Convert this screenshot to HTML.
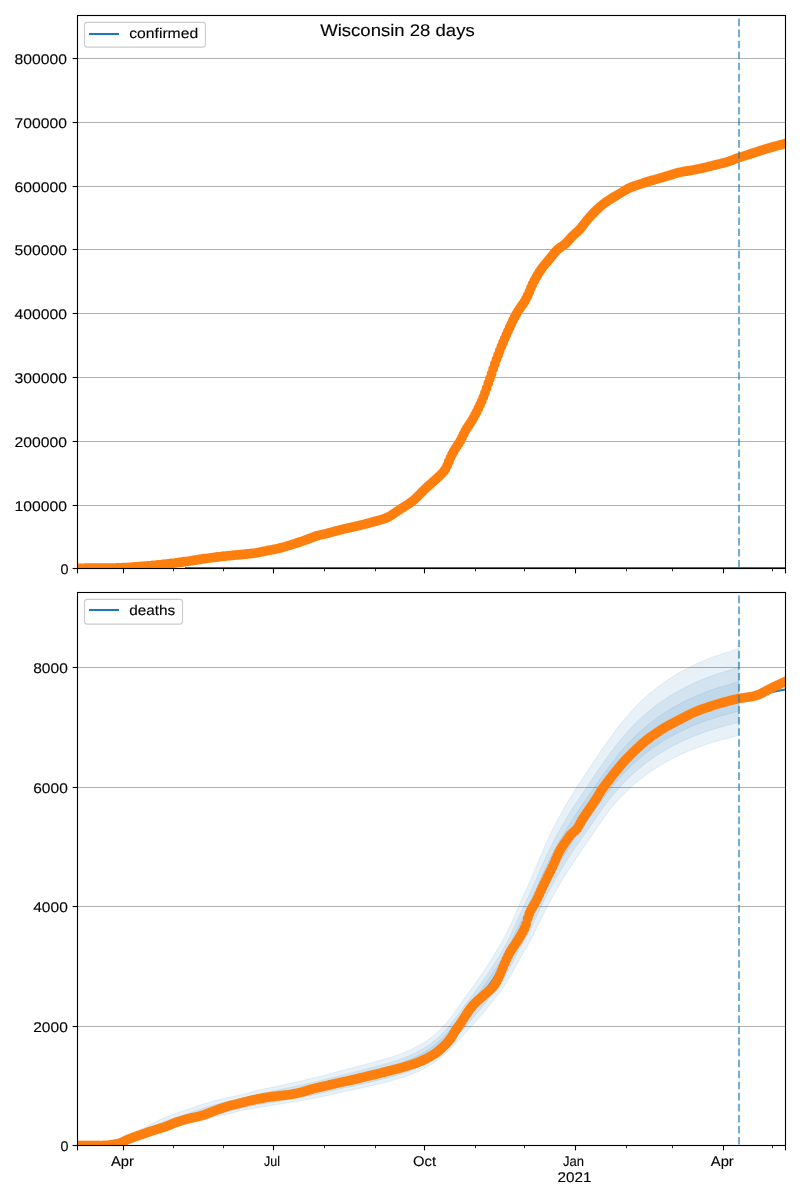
<!DOCTYPE html><html><head><meta charset="utf-8"><style>html,body{margin:0;padding:0;background:#fff;}svg{display:block;} text{text-rendering:geometricPrecision;stroke:#000;stroke-width:0.12px;}</style></head><body>
<svg width="800" height="1200" viewBox="0 0 800 1200">
<rect width="800" height="1200" fill="#fff"/>
<defs><clipPath id="ct"><rect x="77.5" y="15.5" width="708.0" height="553.0"/></clipPath><clipPath id="cb"><rect x="77.5" y="592.5" width="708.0" height="553.0"/></clipPath></defs>
<g font-family='"Liberation Sans", sans-serif' fill="#000" style="will-change:transform">
<line x1="77.5" y1="568.50" x2="785.5" y2="568.50" stroke="#b0b0b0" stroke-width="1.11"/>
<line x1="77.5" y1="505.50" x2="785.5" y2="505.50" stroke="#b0b0b0" stroke-width="1.11"/>
<line x1="77.5" y1="441.50" x2="785.5" y2="441.50" stroke="#b0b0b0" stroke-width="1.11"/>
<line x1="77.5" y1="377.50" x2="785.5" y2="377.50" stroke="#b0b0b0" stroke-width="1.11"/>
<line x1="77.5" y1="313.50" x2="785.5" y2="313.50" stroke="#b0b0b0" stroke-width="1.11"/>
<line x1="77.5" y1="249.50" x2="785.5" y2="249.50" stroke="#b0b0b0" stroke-width="1.11"/>
<line x1="77.5" y1="186.50" x2="785.5" y2="186.50" stroke="#b0b0b0" stroke-width="1.11"/>
<line x1="77.5" y1="122.50" x2="785.5" y2="122.50" stroke="#b0b0b0" stroke-width="1.11"/>
<line x1="77.5" y1="58.50" x2="785.5" y2="58.50" stroke="#b0b0b0" stroke-width="1.11"/>
<g clip-path="url(#ct)">
<path d="M185,568.0 L785.5,568.0" stroke="#1f77b4" stroke-width="2.08" fill="none"/>
<path d="M77.50,568.30 L79.50,568.29 L81.50,568.29 L83.50,568.28 L85.50,568.27 L87.50,568.27 L89.50,568.26 L91.50,568.25 L93.50,568.24 L95.50,568.23 L97.50,568.22 L99.50,568.20 L101.50,568.19 L103.50,568.18 L105.50,568.16 L107.50,568.15 L109.50,568.14 L111.50,568.11 L113.50,568.08 L115.50,568.04 L117.50,567.98 L119.50,567.91 L121.49,567.82 L123.49,567.72 L125.49,567.61 L127.49,567.49 L129.48,567.37 L131.48,567.23 L133.47,567.09 L135.47,566.94 L137.46,566.79 L139.45,566.64 L141.45,566.47 L143.44,566.31 L145.43,566.14 L147.43,565.97 L149.42,565.80 L151.41,565.61 L153.40,565.42 L155.39,565.23 L157.38,565.02 L159.37,564.82 L161.36,564.60 L163.35,564.38 L165.33,564.16 L167.32,563.93 L169.31,563.70 L171.29,563.46 L173.28,563.21 L175.26,562.96 L177.25,562.71 L179.23,562.45 L181.21,562.18 L183.19,561.91 L185.17,561.63 L187.15,561.34 L189.13,561.04 L191.11,560.73 L193.08,560.42 L195.06,560.11 L197.03,559.80 L199.01,559.50 L200.99,559.20 L202.97,558.91 L204.95,558.62 L206.93,558.34 L208.91,558.06 L210.89,557.79 L212.87,557.52 L214.85,557.26 L216.84,557.01 L218.82,556.76 L220.81,556.53 L222.80,556.31 L224.78,556.10 L226.77,555.89 L228.76,555.70 L230.75,555.51 L232.75,555.32 L234.74,555.13 L236.73,554.95 L238.72,554.76 L240.71,554.57 L242.70,554.38 L244.69,554.20 L246.68,554.01 L248.68,553.83 L250.67,553.62 L252.65,553.39 L254.63,553.12 L256.61,552.81 L258.57,552.45 L260.54,552.06 L262.49,551.66 L264.45,551.24 L266.41,550.83 L268.37,550.44 L270.33,550.06 L272.30,549.69 L274.26,549.32 L276.22,548.92 L278.18,548.50 L280.12,548.04 L282.06,547.54 L283.99,547.01 L285.91,546.44 L287.82,545.86 L289.73,545.27 L291.64,544.67 L293.55,544.07 L295.45,543.47 L297.36,542.86 L299.26,542.24 L301.16,541.61 L303.05,540.97 L304.94,540.30 L306.81,539.61 L308.68,538.89 L310.54,538.16 L312.40,537.43 L314.28,536.73 L316.17,536.08 L318.08,535.51 L320.02,535.03 L321.97,534.61 L323.93,534.20 L325.88,533.75 L327.81,533.26 L329.74,532.73 L331.67,532.20 L333.60,531.66 L335.53,531.13 L337.46,530.62 L339.40,530.13 L341.34,529.65 L343.29,529.18 L345.23,528.72 L347.18,528.26 L349.13,527.81 L351.07,527.36 L353.02,526.92 L354.98,526.48 L356.93,526.04 L358.88,525.60 L360.83,525.14 L362.77,524.67 L364.71,524.19 L366.65,523.69 L368.58,523.18 L370.51,522.66 L372.44,522.12 L374.36,521.59 L376.29,521.05 L378.22,520.53 L380.15,520.00 L382.07,519.45 L383.97,518.83 L385.84,518.13 L387.67,517.33 L389.44,516.41 L391.17,515.40 L392.85,514.32 L394.50,513.20 L396.14,512.06 L397.79,510.92 L399.44,509.80 L401.12,508.71 L402.82,507.65 L404.52,506.60 L406.22,505.55 L407.91,504.48 L409.57,503.36 L411.19,502.19 L412.76,500.96 L414.28,499.66 L415.75,498.31 L417.19,496.92 L418.60,495.50 L419.99,494.07 L421.38,492.63 L422.78,491.21 L424.21,489.80 L425.66,488.42 L427.13,487.07 L428.62,485.73 L430.11,484.41 L431.61,483.08 L433.10,481.74 L434.57,480.39 L436.05,479.05 L437.53,477.70 L439.01,476.36 L440.47,474.99 L441.89,473.59 L443.24,472.11 L444.47,470.55 L445.56,468.88 L446.50,467.13 L447.31,465.30 L448.04,463.44 L448.76,461.58 L449.51,459.73 L450.32,457.90 L451.19,456.10 L452.09,454.31 L453.03,452.55 L453.99,450.80 L455.01,449.07 L456.08,447.39 L457.19,445.73 L458.31,444.07 L459.39,442.39 L460.40,440.66 L461.33,438.90 L462.21,437.10 L463.06,435.29 L463.93,433.49 L464.83,431.70 L465.79,429.96 L466.83,428.25 L467.93,426.58 L469.06,424.93 L470.19,423.28 L471.28,421.60 L472.32,419.90 L473.31,418.16 L474.28,416.41 L475.22,414.64 L476.14,412.87 L477.04,411.08 L477.93,409.29 L478.80,407.49 L479.65,405.68 L480.48,403.86 L481.30,402.04 L482.09,400.20 L482.86,398.35 L483.59,396.50 L484.31,394.63 L485.00,392.75 L485.68,390.87 L486.34,388.98 L486.99,387.09 L487.63,385.20 L488.27,383.30 L488.91,381.41 L489.56,379.52 L490.21,377.62 L490.86,375.73 L491.50,373.84 L492.14,371.94 L492.78,370.05 L493.42,368.15 L494.06,366.26 L494.71,364.37 L495.37,362.48 L496.04,360.60 L496.73,358.72 L497.42,356.84 L498.12,354.97 L498.83,353.10 L499.54,351.23 L500.27,349.36 L501.00,347.50 L501.75,345.65 L502.51,343.80 L503.28,341.95 L504.06,340.11 L504.85,338.28 L505.65,336.44 L506.46,334.61 L507.26,332.78 L508.08,330.96 L508.90,329.13 L509.74,327.32 L510.58,325.50 L511.43,323.69 L512.29,321.89 L513.17,320.09 L514.06,318.30 L514.98,316.52 L515.92,314.76 L516.89,313.01 L517.92,311.30 L519.00,309.62 L520.13,307.97 L521.29,306.34 L522.45,304.71 L523.57,303.05 L524.64,301.36 L525.63,299.63 L526.56,297.86 L527.43,296.06 L528.26,294.24 L529.06,292.41 L529.84,290.57 L530.62,288.73 L531.41,286.89 L532.20,285.06 L533.04,283.24 L533.91,281.44 L534.83,279.66 L535.79,277.91 L536.79,276.18 L537.83,274.47 L538.90,272.78 L540.00,271.11 L541.13,269.46 L542.29,267.84 L543.49,266.24 L544.74,264.67 L546.02,263.14 L547.32,261.62 L548.62,260.10 L549.91,258.57 L551.17,257.02 L552.41,255.45 L553.65,253.88 L554.92,252.34 L556.26,250.86 L557.70,249.48 L559.24,248.23 L560.87,247.08 L562.53,245.96 L564.13,244.77 L565.64,243.48 L567.06,242.07 L568.40,240.59 L569.72,239.09 L571.06,237.60 L572.44,236.16 L573.88,234.77 L575.36,233.44 L576.87,232.12 L578.34,230.77 L579.75,229.35 L581.07,227.86 L582.32,226.30 L583.52,224.70 L584.71,223.09 L585.92,221.50 L587.18,219.95 L588.47,218.42 L589.80,216.93 L591.15,215.45 L592.52,213.99 L593.90,212.55 L595.31,211.13 L596.74,209.73 L598.19,208.36 L599.68,207.03 L601.21,205.74 L602.78,204.50 L604.39,203.31 L606.02,202.16 L607.68,201.04 L609.35,199.94 L611.03,198.86 L612.73,197.80 L614.44,196.76 L616.16,195.74 L617.88,194.73 L619.61,193.72 L621.32,192.69 L623.03,191.65 L624.74,190.61 L626.46,189.60 L628.22,188.64 L630.01,187.77 L631.85,186.98 L633.71,186.27 L635.61,185.62 L637.51,185.00 L639.41,184.38 L641.31,183.76 L643.21,183.14 L645.11,182.53 L647.02,181.92 L648.93,181.33 L650.85,180.76 L652.77,180.21 L654.70,179.67 L656.63,179.14 L658.55,178.60 L660.47,178.05 L662.39,177.49 L664.31,176.92 L666.22,176.34 L668.14,175.76 L670.05,175.18 L671.96,174.58 L673.87,173.98 L675.78,173.39 L677.70,172.83 L679.64,172.34 L681.59,171.92 L683.56,171.57 L685.53,171.27 L687.51,170.98 L689.49,170.67 L691.46,170.32 L693.42,169.96 L695.39,169.58 L697.35,169.19 L699.31,168.78 L701.26,168.36 L703.21,167.92 L705.16,167.47 L707.10,166.99 L709.04,166.51 L710.98,166.02 L712.92,165.53 L714.86,165.05 L716.81,164.58 L718.75,164.12 L720.70,163.66 L722.65,163.20 L724.58,162.70 L726.51,162.16 L728.41,161.56 L730.30,160.90 L732.17,160.20 L734.03,159.47 L735.90,158.74 L737.77,158.04 L739.66,157.38 L741.56,156.76 L743.47,156.17 L745.38,155.59 L747.30,155.01 L749.20,154.40 L751.10,153.78 L753.00,153.15 L754.90,152.51 L756.79,151.88 L758.69,151.25 L760.60,150.64 L762.50,150.04 L764.41,149.44 L766.33,148.86 L768.24,148.28 L770.16,147.72 L772.08,147.16 L774.00,146.61 L775.93,146.07 L777.86,145.54 L779.79,145.02 L781.72,144.51 L783.65,143.99 L785.50,143.50" stroke="#ff7f0e" stroke-width="2.08" fill="none"/>
<path d="M72.42,568.30a4.9,4.9 0 1,0 9.8,0a4.9,4.9 0 1,0 -9.8,0M74.07,568.29a4.9,4.9 0 1,0 9.8,0a4.9,4.9 0 1,0 -9.8,0M75.71,568.29a4.9,4.9 0 1,0 9.8,0a4.9,4.9 0 1,0 -9.8,0M77.35,568.28a4.9,4.9 0 1,0 9.8,0a4.9,4.9 0 1,0 -9.8,0M79.00,568.28a4.9,4.9 0 1,0 9.8,0a4.9,4.9 0 1,0 -9.8,0M80.64,568.27a4.9,4.9 0 1,0 9.8,0a4.9,4.9 0 1,0 -9.8,0M82.29,568.27a4.9,4.9 0 1,0 9.8,0a4.9,4.9 0 1,0 -9.8,0M83.93,568.26a4.9,4.9 0 1,0 9.8,0a4.9,4.9 0 1,0 -9.8,0M85.57,568.26a4.9,4.9 0 1,0 9.8,0a4.9,4.9 0 1,0 -9.8,0M87.22,568.25a4.9,4.9 0 1,0 9.8,0a4.9,4.9 0 1,0 -9.8,0M88.86,568.24a4.9,4.9 0 1,0 9.8,0a4.9,4.9 0 1,0 -9.8,0M90.51,568.23a4.9,4.9 0 1,0 9.8,0a4.9,4.9 0 1,0 -9.8,0M92.15,568.22a4.9,4.9 0 1,0 9.8,0a4.9,4.9 0 1,0 -9.8,0M93.79,568.21a4.9,4.9 0 1,0 9.8,0a4.9,4.9 0 1,0 -9.8,0M95.44,568.20a4.9,4.9 0 1,0 9.8,0a4.9,4.9 0 1,0 -9.8,0M97.08,568.19a4.9,4.9 0 1,0 9.8,0a4.9,4.9 0 1,0 -9.8,0M98.72,568.18a4.9,4.9 0 1,0 9.8,0a4.9,4.9 0 1,0 -9.8,0M100.37,568.17a4.9,4.9 0 1,0 9.8,0a4.9,4.9 0 1,0 -9.8,0M102.01,568.16a4.9,4.9 0 1,0 9.8,0a4.9,4.9 0 1,0 -9.8,0M103.66,568.14a4.9,4.9 0 1,0 9.8,0a4.9,4.9 0 1,0 -9.8,0M105.30,568.13a4.9,4.9 0 1,0 9.8,0a4.9,4.9 0 1,0 -9.8,0M106.94,568.11a4.9,4.9 0 1,0 9.8,0a4.9,4.9 0 1,0 -9.8,0M108.59,568.08a4.9,4.9 0 1,0 9.8,0a4.9,4.9 0 1,0 -9.8,0M110.23,568.05a4.9,4.9 0 1,0 9.8,0a4.9,4.9 0 1,0 -9.8,0M111.87,568.00a4.9,4.9 0 1,0 9.8,0a4.9,4.9 0 1,0 -9.8,0M113.52,567.95a4.9,4.9 0 1,0 9.8,0a4.9,4.9 0 1,0 -9.8,0M115.16,567.88a4.9,4.9 0 1,0 9.8,0a4.9,4.9 0 1,0 -9.8,0M116.81,567.81a4.9,4.9 0 1,0 9.8,0a4.9,4.9 0 1,0 -9.8,0M118.45,567.73a4.9,4.9 0 1,0 9.8,0a4.9,4.9 0 1,0 -9.8,0M120.09,567.64a4.9,4.9 0 1,0 9.8,0a4.9,4.9 0 1,0 -9.8,0M121.74,567.55a4.9,4.9 0 1,0 9.8,0a4.9,4.9 0 1,0 -9.8,0M123.38,567.44a4.9,4.9 0 1,0 9.8,0a4.9,4.9 0 1,0 -9.8,0M125.03,567.34a4.9,4.9 0 1,0 9.8,0a4.9,4.9 0 1,0 -9.8,0M126.67,567.22a4.9,4.9 0 1,0 9.8,0a4.9,4.9 0 1,0 -9.8,0M128.31,567.11a4.9,4.9 0 1,0 9.8,0a4.9,4.9 0 1,0 -9.8,0M129.96,566.99a4.9,4.9 0 1,0 9.8,0a4.9,4.9 0 1,0 -9.8,0M131.60,566.86a4.9,4.9 0 1,0 9.8,0a4.9,4.9 0 1,0 -9.8,0M133.24,566.74a4.9,4.9 0 1,0 9.8,0a4.9,4.9 0 1,0 -9.8,0M134.89,566.61a4.9,4.9 0 1,0 9.8,0a4.9,4.9 0 1,0 -9.8,0M136.53,566.48a4.9,4.9 0 1,0 9.8,0a4.9,4.9 0 1,0 -9.8,0M138.18,566.34a4.9,4.9 0 1,0 9.8,0a4.9,4.9 0 1,0 -9.8,0M139.82,566.20a4.9,4.9 0 1,0 9.8,0a4.9,4.9 0 1,0 -9.8,0M141.46,566.07a4.9,4.9 0 1,0 9.8,0a4.9,4.9 0 1,0 -9.8,0M143.11,565.92a4.9,4.9 0 1,0 9.8,0a4.9,4.9 0 1,0 -9.8,0M144.75,565.78a4.9,4.9 0 1,0 9.8,0a4.9,4.9 0 1,0 -9.8,0M146.39,565.62a4.9,4.9 0 1,0 9.8,0a4.9,4.9 0 1,0 -9.8,0M148.04,565.47a4.9,4.9 0 1,0 9.8,0a4.9,4.9 0 1,0 -9.8,0M149.68,565.31a4.9,4.9 0 1,0 9.8,0a4.9,4.9 0 1,0 -9.8,0M151.33,565.14a4.9,4.9 0 1,0 9.8,0a4.9,4.9 0 1,0 -9.8,0M152.97,564.97a4.9,4.9 0 1,0 9.8,0a4.9,4.9 0 1,0 -9.8,0M154.61,564.80a4.9,4.9 0 1,0 9.8,0a4.9,4.9 0 1,0 -9.8,0M156.26,564.62a4.9,4.9 0 1,0 9.8,0a4.9,4.9 0 1,0 -9.8,0M157.90,564.44a4.9,4.9 0 1,0 9.8,0a4.9,4.9 0 1,0 -9.8,0M159.54,564.26a4.9,4.9 0 1,0 9.8,0a4.9,4.9 0 1,0 -9.8,0M161.19,564.07a4.9,4.9 0 1,0 9.8,0a4.9,4.9 0 1,0 -9.8,0M162.83,563.88a4.9,4.9 0 1,0 9.8,0a4.9,4.9 0 1,0 -9.8,0M164.48,563.69a4.9,4.9 0 1,0 9.8,0a4.9,4.9 0 1,0 -9.8,0M166.12,563.49a4.9,4.9 0 1,0 9.8,0a4.9,4.9 0 1,0 -9.8,0M167.76,563.29a4.9,4.9 0 1,0 9.8,0a4.9,4.9 0 1,0 -9.8,0M169.41,563.08a4.9,4.9 0 1,0 9.8,0a4.9,4.9 0 1,0 -9.8,0M171.05,562.87a4.9,4.9 0 1,0 9.8,0a4.9,4.9 0 1,0 -9.8,0M172.70,562.66a4.9,4.9 0 1,0 9.8,0a4.9,4.9 0 1,0 -9.8,0M174.34,562.44a4.9,4.9 0 1,0 9.8,0a4.9,4.9 0 1,0 -9.8,0M175.98,562.22a4.9,4.9 0 1,0 9.8,0a4.9,4.9 0 1,0 -9.8,0M177.63,562.00a4.9,4.9 0 1,0 9.8,0a4.9,4.9 0 1,0 -9.8,0M179.27,561.77a4.9,4.9 0 1,0 9.8,0a4.9,4.9 0 1,0 -9.8,0M180.91,561.53a4.9,4.9 0 1,0 9.8,0a4.9,4.9 0 1,0 -9.8,0M182.56,561.29a4.9,4.9 0 1,0 9.8,0a4.9,4.9 0 1,0 -9.8,0M184.20,561.04a4.9,4.9 0 1,0 9.8,0a4.9,4.9 0 1,0 -9.8,0M185.85,560.79a4.9,4.9 0 1,0 9.8,0a4.9,4.9 0 1,0 -9.8,0M187.49,560.53a4.9,4.9 0 1,0 9.8,0a4.9,4.9 0 1,0 -9.8,0M189.13,560.27a4.9,4.9 0 1,0 9.8,0a4.9,4.9 0 1,0 -9.8,0M190.78,560.02a4.9,4.9 0 1,0 9.8,0a4.9,4.9 0 1,0 -9.8,0M192.42,559.76a4.9,4.9 0 1,0 9.8,0a4.9,4.9 0 1,0 -9.8,0M194.06,559.51a4.9,4.9 0 1,0 9.8,0a4.9,4.9 0 1,0 -9.8,0M195.71,559.26a4.9,4.9 0 1,0 9.8,0a4.9,4.9 0 1,0 -9.8,0M197.35,559.01a4.9,4.9 0 1,0 9.8,0a4.9,4.9 0 1,0 -9.8,0M199.00,558.77a4.9,4.9 0 1,0 9.8,0a4.9,4.9 0 1,0 -9.8,0M200.64,558.54a4.9,4.9 0 1,0 9.8,0a4.9,4.9 0 1,0 -9.8,0M202.28,558.31a4.9,4.9 0 1,0 9.8,0a4.9,4.9 0 1,0 -9.8,0M203.93,558.08a4.9,4.9 0 1,0 9.8,0a4.9,4.9 0 1,0 -9.8,0M205.57,557.85a4.9,4.9 0 1,0 9.8,0a4.9,4.9 0 1,0 -9.8,0M207.22,557.62a4.9,4.9 0 1,0 9.8,0a4.9,4.9 0 1,0 -9.8,0M208.86,557.41a4.9,4.9 0 1,0 9.8,0a4.9,4.9 0 1,0 -9.8,0M210.50,557.19a4.9,4.9 0 1,0 9.8,0a4.9,4.9 0 1,0 -9.8,0M212.15,556.98a4.9,4.9 0 1,0 9.8,0a4.9,4.9 0 1,0 -9.8,0M213.79,556.78a4.9,4.9 0 1,0 9.8,0a4.9,4.9 0 1,0 -9.8,0M215.43,556.59a4.9,4.9 0 1,0 9.8,0a4.9,4.9 0 1,0 -9.8,0M217.08,556.40a4.9,4.9 0 1,0 9.8,0a4.9,4.9 0 1,0 -9.8,0M218.72,556.22a4.9,4.9 0 1,0 9.8,0a4.9,4.9 0 1,0 -9.8,0M220.37,556.05a4.9,4.9 0 1,0 9.8,0a4.9,4.9 0 1,0 -9.8,0M222.01,555.88a4.9,4.9 0 1,0 9.8,0a4.9,4.9 0 1,0 -9.8,0M223.65,555.72a4.9,4.9 0 1,0 9.8,0a4.9,4.9 0 1,0 -9.8,0M225.30,555.56a4.9,4.9 0 1,0 9.8,0a4.9,4.9 0 1,0 -9.8,0M226.94,555.40a4.9,4.9 0 1,0 9.8,0a4.9,4.9 0 1,0 -9.8,0M228.58,555.25a4.9,4.9 0 1,0 9.8,0a4.9,4.9 0 1,0 -9.8,0M230.23,555.10a4.9,4.9 0 1,0 9.8,0a4.9,4.9 0 1,0 -9.8,0M231.87,554.95a4.9,4.9 0 1,0 9.8,0a4.9,4.9 0 1,0 -9.8,0M233.52,554.79a4.9,4.9 0 1,0 9.8,0a4.9,4.9 0 1,0 -9.8,0M235.16,554.64a4.9,4.9 0 1,0 9.8,0a4.9,4.9 0 1,0 -9.8,0M236.80,554.48a4.9,4.9 0 1,0 9.8,0a4.9,4.9 0 1,0 -9.8,0M238.45,554.32a4.9,4.9 0 1,0 9.8,0a4.9,4.9 0 1,0 -9.8,0M240.09,554.17a4.9,4.9 0 1,0 9.8,0a4.9,4.9 0 1,0 -9.8,0M241.73,554.02a4.9,4.9 0 1,0 9.8,0a4.9,4.9 0 1,0 -9.8,0M243.38,553.86a4.9,4.9 0 1,0 9.8,0a4.9,4.9 0 1,0 -9.8,0M245.02,553.70a4.9,4.9 0 1,0 9.8,0a4.9,4.9 0 1,0 -9.8,0M246.67,553.52a4.9,4.9 0 1,0 9.8,0a4.9,4.9 0 1,0 -9.8,0M248.31,553.32a4.9,4.9 0 1,0 9.8,0a4.9,4.9 0 1,0 -9.8,0M249.95,553.09a4.9,4.9 0 1,0 9.8,0a4.9,4.9 0 1,0 -9.8,0M251.60,552.83a4.9,4.9 0 1,0 9.8,0a4.9,4.9 0 1,0 -9.8,0M253.24,552.53a4.9,4.9 0 1,0 9.8,0a4.9,4.9 0 1,0 -9.8,0M254.89,552.22a4.9,4.9 0 1,0 9.8,0a4.9,4.9 0 1,0 -9.8,0M256.53,551.88a4.9,4.9 0 1,0 9.8,0a4.9,4.9 0 1,0 -9.8,0M258.17,551.53a4.9,4.9 0 1,0 9.8,0a4.9,4.9 0 1,0 -9.8,0M259.82,551.19a4.9,4.9 0 1,0 9.8,0a4.9,4.9 0 1,0 -9.8,0M261.46,550.84a4.9,4.9 0 1,0 9.8,0a4.9,4.9 0 1,0 -9.8,0M263.10,550.51a4.9,4.9 0 1,0 9.8,0a4.9,4.9 0 1,0 -9.8,0M264.75,550.19a4.9,4.9 0 1,0 9.8,0a4.9,4.9 0 1,0 -9.8,0M266.39,549.88a4.9,4.9 0 1,0 9.8,0a4.9,4.9 0 1,0 -9.8,0M268.04,549.57a4.9,4.9 0 1,0 9.8,0a4.9,4.9 0 1,0 -9.8,0M269.68,549.25a4.9,4.9 0 1,0 9.8,0a4.9,4.9 0 1,0 -9.8,0M271.32,548.92a4.9,4.9 0 1,0 9.8,0a4.9,4.9 0 1,0 -9.8,0M272.97,548.57a4.9,4.9 0 1,0 9.8,0a4.9,4.9 0 1,0 -9.8,0M274.61,548.19a4.9,4.9 0 1,0 9.8,0a4.9,4.9 0 1,0 -9.8,0M276.25,547.78a4.9,4.9 0 1,0 9.8,0a4.9,4.9 0 1,0 -9.8,0M277.90,547.34a4.9,4.9 0 1,0 9.8,0a4.9,4.9 0 1,0 -9.8,0M279.54,546.87a4.9,4.9 0 1,0 9.8,0a4.9,4.9 0 1,0 -9.8,0M281.19,546.39a4.9,4.9 0 1,0 9.8,0a4.9,4.9 0 1,0 -9.8,0M282.83,545.89a4.9,4.9 0 1,0 9.8,0a4.9,4.9 0 1,0 -9.8,0M284.47,545.38a4.9,4.9 0 1,0 9.8,0a4.9,4.9 0 1,0 -9.8,0M286.12,544.87a4.9,4.9 0 1,0 9.8,0a4.9,4.9 0 1,0 -9.8,0M287.76,544.35a4.9,4.9 0 1,0 9.8,0a4.9,4.9 0 1,0 -9.8,0M289.41,543.83a4.9,4.9 0 1,0 9.8,0a4.9,4.9 0 1,0 -9.8,0M291.05,543.31a4.9,4.9 0 1,0 9.8,0a4.9,4.9 0 1,0 -9.8,0M292.69,542.78a4.9,4.9 0 1,0 9.8,0a4.9,4.9 0 1,0 -9.8,0M294.34,542.25a4.9,4.9 0 1,0 9.8,0a4.9,4.9 0 1,0 -9.8,0M295.98,541.70a4.9,4.9 0 1,0 9.8,0a4.9,4.9 0 1,0 -9.8,0M297.62,541.15a4.9,4.9 0 1,0 9.8,0a4.9,4.9 0 1,0 -9.8,0M299.27,540.57a4.9,4.9 0 1,0 9.8,0a4.9,4.9 0 1,0 -9.8,0M300.91,539.98a4.9,4.9 0 1,0 9.8,0a4.9,4.9 0 1,0 -9.8,0M302.56,539.37a4.9,4.9 0 1,0 9.8,0a4.9,4.9 0 1,0 -9.8,0M304.20,538.73a4.9,4.9 0 1,0 9.8,0a4.9,4.9 0 1,0 -9.8,0M305.84,538.08a4.9,4.9 0 1,0 9.8,0a4.9,4.9 0 1,0 -9.8,0M307.49,537.44a4.9,4.9 0 1,0 9.8,0a4.9,4.9 0 1,0 -9.8,0M309.13,536.82a4.9,4.9 0 1,0 9.8,0a4.9,4.9 0 1,0 -9.8,0M310.77,536.24a4.9,4.9 0 1,0 9.8,0a4.9,4.9 0 1,0 -9.8,0M312.42,535.72a4.9,4.9 0 1,0 9.8,0a4.9,4.9 0 1,0 -9.8,0M314.06,535.28a4.9,4.9 0 1,0 9.8,0a4.9,4.9 0 1,0 -9.8,0M315.71,534.90a4.9,4.9 0 1,0 9.8,0a4.9,4.9 0 1,0 -9.8,0M317.35,534.56a4.9,4.9 0 1,0 9.8,0a4.9,4.9 0 1,0 -9.8,0M318.99,534.21a4.9,4.9 0 1,0 9.8,0a4.9,4.9 0 1,0 -9.8,0M320.64,533.83a4.9,4.9 0 1,0 9.8,0a4.9,4.9 0 1,0 -9.8,0M322.28,533.42a4.9,4.9 0 1,0 9.8,0a4.9,4.9 0 1,0 -9.8,0M323.92,532.98a4.9,4.9 0 1,0 9.8,0a4.9,4.9 0 1,0 -9.8,0M325.57,532.53a4.9,4.9 0 1,0 9.8,0a4.9,4.9 0 1,0 -9.8,0M327.21,532.07a4.9,4.9 0 1,0 9.8,0a4.9,4.9 0 1,0 -9.8,0M328.86,531.62a4.9,4.9 0 1,0 9.8,0a4.9,4.9 0 1,0 -9.8,0M330.50,531.17a4.9,4.9 0 1,0 9.8,0a4.9,4.9 0 1,0 -9.8,0M332.14,530.73a4.9,4.9 0 1,0 9.8,0a4.9,4.9 0 1,0 -9.8,0M333.79,530.31a4.9,4.9 0 1,0 9.8,0a4.9,4.9 0 1,0 -9.8,0M335.43,529.90a4.9,4.9 0 1,0 9.8,0a4.9,4.9 0 1,0 -9.8,0M337.08,529.50a4.9,4.9 0 1,0 9.8,0a4.9,4.9 0 1,0 -9.8,0M338.72,529.10a4.9,4.9 0 1,0 9.8,0a4.9,4.9 0 1,0 -9.8,0M340.36,528.71a4.9,4.9 0 1,0 9.8,0a4.9,4.9 0 1,0 -9.8,0M342.01,528.32a4.9,4.9 0 1,0 9.8,0a4.9,4.9 0 1,0 -9.8,0M343.65,527.94a4.9,4.9 0 1,0 9.8,0a4.9,4.9 0 1,0 -9.8,0M345.29,527.56a4.9,4.9 0 1,0 9.8,0a4.9,4.9 0 1,0 -9.8,0M346.94,527.18a4.9,4.9 0 1,0 9.8,0a4.9,4.9 0 1,0 -9.8,0M348.58,526.81a4.9,4.9 0 1,0 9.8,0a4.9,4.9 0 1,0 -9.8,0M350.23,526.45a4.9,4.9 0 1,0 9.8,0a4.9,4.9 0 1,0 -9.8,0M351.87,526.08a4.9,4.9 0 1,0 9.8,0a4.9,4.9 0 1,0 -9.8,0M353.51,525.71a4.9,4.9 0 1,0 9.8,0a4.9,4.9 0 1,0 -9.8,0M355.16,525.32a4.9,4.9 0 1,0 9.8,0a4.9,4.9 0 1,0 -9.8,0M356.80,524.93a4.9,4.9 0 1,0 9.8,0a4.9,4.9 0 1,0 -9.8,0M358.44,524.53a4.9,4.9 0 1,0 9.8,0a4.9,4.9 0 1,0 -9.8,0M360.09,524.12a4.9,4.9 0 1,0 9.8,0a4.9,4.9 0 1,0 -9.8,0M361.73,523.69a4.9,4.9 0 1,0 9.8,0a4.9,4.9 0 1,0 -9.8,0M363.38,523.26a4.9,4.9 0 1,0 9.8,0a4.9,4.9 0 1,0 -9.8,0M365.02,522.82a4.9,4.9 0 1,0 9.8,0a4.9,4.9 0 1,0 -9.8,0M366.66,522.37a4.9,4.9 0 1,0 9.8,0a4.9,4.9 0 1,0 -9.8,0M368.31,521.91a4.9,4.9 0 1,0 9.8,0a4.9,4.9 0 1,0 -9.8,0M369.95,521.45a4.9,4.9 0 1,0 9.8,0a4.9,4.9 0 1,0 -9.8,0M371.60,521.00a4.9,4.9 0 1,0 9.8,0a4.9,4.9 0 1,0 -9.8,0M373.24,520.55a4.9,4.9 0 1,0 9.8,0a4.9,4.9 0 1,0 -9.8,0M374.88,520.10a4.9,4.9 0 1,0 9.8,0a4.9,4.9 0 1,0 -9.8,0M376.53,519.64a4.9,4.9 0 1,0 9.8,0a4.9,4.9 0 1,0 -9.8,0M378.17,519.14a4.9,4.9 0 1,0 9.8,0a4.9,4.9 0 1,0 -9.8,0M379.81,518.57a4.9,4.9 0 1,0 9.8,0a4.9,4.9 0 1,0 -9.8,0M381.46,517.92a4.9,4.9 0 1,0 9.8,0a4.9,4.9 0 1,0 -9.8,0M383.10,517.16a4.9,4.9 0 1,0 9.8,0a4.9,4.9 0 1,0 -9.8,0M384.75,516.30a4.9,4.9 0 1,0 9.8,0a4.9,4.9 0 1,0 -9.8,0M386.39,515.33a4.9,4.9 0 1,0 9.8,0a4.9,4.9 0 1,0 -9.8,0M388.03,514.27a4.9,4.9 0 1,0 9.8,0a4.9,4.9 0 1,0 -9.8,0M389.68,513.15a4.9,4.9 0 1,0 9.8,0a4.9,4.9 0 1,0 -9.8,0M391.32,512.01a4.9,4.9 0 1,0 9.8,0a4.9,4.9 0 1,0 -9.8,0M392.96,510.87a4.9,4.9 0 1,0 9.8,0a4.9,4.9 0 1,0 -9.8,0M394.61,509.76a4.9,4.9 0 1,0 9.8,0a4.9,4.9 0 1,0 -9.8,0M396.25,508.69a4.9,4.9 0 1,0 9.8,0a4.9,4.9 0 1,0 -9.8,0M397.90,507.66a4.9,4.9 0 1,0 9.8,0a4.9,4.9 0 1,0 -9.8,0M399.54,506.65a4.9,4.9 0 1,0 9.8,0a4.9,4.9 0 1,0 -9.8,0M401.18,505.64a4.9,4.9 0 1,0 9.8,0a4.9,4.9 0 1,0 -9.8,0M402.83,504.59a4.9,4.9 0 1,0 9.8,0a4.9,4.9 0 1,0 -9.8,0M404.47,503.50a4.9,4.9 0 1,0 9.8,0a4.9,4.9 0 1,0 -9.8,0M406.11,502.32a4.9,4.9 0 1,0 9.8,0a4.9,4.9 0 1,0 -9.8,0M407.76,501.04a4.9,4.9 0 1,0 9.8,0a4.9,4.9 0 1,0 -9.8,0M409.40,499.64a4.9,4.9 0 1,0 9.8,0a4.9,4.9 0 1,0 -9.8,0M411.05,498.13a4.9,4.9 0 1,0 9.8,0a4.9,4.9 0 1,0 -9.8,0M412.69,496.52a4.9,4.9 0 1,0 9.8,0a4.9,4.9 0 1,0 -9.8,0M414.33,494.85a4.9,4.9 0 1,0 9.8,0a4.9,4.9 0 1,0 -9.8,0M415.98,493.15a4.9,4.9 0 1,0 9.8,0a4.9,4.9 0 1,0 -9.8,0M417.62,491.47a4.9,4.9 0 1,0 9.8,0a4.9,4.9 0 1,0 -9.8,0M419.27,489.84a4.9,4.9 0 1,0 9.8,0a4.9,4.9 0 1,0 -9.8,0M420.91,488.28a4.9,4.9 0 1,0 9.8,0a4.9,4.9 0 1,0 -9.8,0M422.55,486.77a4.9,4.9 0 1,0 9.8,0a4.9,4.9 0 1,0 -9.8,0M424.20,485.31a4.9,4.9 0 1,0 9.8,0a4.9,4.9 0 1,0 -9.8,0M425.84,483.85a4.9,4.9 0 1,0 9.8,0a4.9,4.9 0 1,0 -9.8,0M427.48,482.38a4.9,4.9 0 1,0 9.8,0a4.9,4.9 0 1,0 -9.8,0M429.13,480.89a4.9,4.9 0 1,0 9.8,0a4.9,4.9 0 1,0 -9.8,0M430.77,479.39a4.9,4.9 0 1,0 9.8,0a4.9,4.9 0 1,0 -9.8,0M432.42,477.90a4.9,4.9 0 1,0 9.8,0a4.9,4.9 0 1,0 -9.8,0M434.06,476.41a4.9,4.9 0 1,0 9.8,0a4.9,4.9 0 1,0 -9.8,0M435.70,474.87a4.9,4.9 0 1,0 9.8,0a4.9,4.9 0 1,0 -9.8,0M437.35,473.21a4.9,4.9 0 1,0 9.8,0a4.9,4.9 0 1,0 -9.8,0M438.99,471.31a4.9,4.9 0 1,0 9.8,0a4.9,4.9 0 1,0 -9.8,0M440.63,468.92a4.9,4.9 0 1,0 9.8,0a4.9,4.9 0 1,0 -9.8,0M442.28,465.60a4.9,4.9 0 1,0 9.8,0a4.9,4.9 0 1,0 -9.8,0M443.92,461.42a4.9,4.9 0 1,0 9.8,0a4.9,4.9 0 1,0 -9.8,0M445.57,457.60a4.9,4.9 0 1,0 9.8,0a4.9,4.9 0 1,0 -9.8,0M447.21,454.28a4.9,4.9 0 1,0 9.8,0a4.9,4.9 0 1,0 -9.8,0M448.85,451.22a4.9,4.9 0 1,0 9.8,0a4.9,4.9 0 1,0 -9.8,0M450.50,448.45a4.9,4.9 0 1,0 9.8,0a4.9,4.9 0 1,0 -9.8,0M452.14,445.95a4.9,4.9 0 1,0 9.8,0a4.9,4.9 0 1,0 -9.8,0M453.79,443.50a4.9,4.9 0 1,0 9.8,0a4.9,4.9 0 1,0 -9.8,0M455.43,440.79a4.9,4.9 0 1,0 9.8,0a4.9,4.9 0 1,0 -9.8,0M457.07,437.58a4.9,4.9 0 1,0 9.8,0a4.9,4.9 0 1,0 -9.8,0M458.72,434.13a4.9,4.9 0 1,0 9.8,0a4.9,4.9 0 1,0 -9.8,0M460.36,430.90a4.9,4.9 0 1,0 9.8,0a4.9,4.9 0 1,0 -9.8,0M462.00,428.14a4.9,4.9 0 1,0 9.8,0a4.9,4.9 0 1,0 -9.8,0M463.65,425.68a4.9,4.9 0 1,0 9.8,0a4.9,4.9 0 1,0 -9.8,0M465.29,423.28a4.9,4.9 0 1,0 9.8,0a4.9,4.9 0 1,0 -9.8,0M466.94,420.70a4.9,4.9 0 1,0 9.8,0a4.9,4.9 0 1,0 -9.8,0M468.58,417.86a4.9,4.9 0 1,0 9.8,0a4.9,4.9 0 1,0 -9.8,0M470.22,414.82a4.9,4.9 0 1,0 9.8,0a4.9,4.9 0 1,0 -9.8,0M471.87,411.63a4.9,4.9 0 1,0 9.8,0a4.9,4.9 0 1,0 -9.8,0M473.51,408.29a4.9,4.9 0 1,0 9.8,0a4.9,4.9 0 1,0 -9.8,0M475.15,404.80a4.9,4.9 0 1,0 9.8,0a4.9,4.9 0 1,0 -9.8,0M476.80,401.12a4.9,4.9 0 1,0 9.8,0a4.9,4.9 0 1,0 -9.8,0M478.44,397.14a4.9,4.9 0 1,0 9.8,0a4.9,4.9 0 1,0 -9.8,0M480.09,392.79a4.9,4.9 0 1,0 9.8,0a4.9,4.9 0 1,0 -9.8,0M481.73,388.13a4.9,4.9 0 1,0 9.8,0a4.9,4.9 0 1,0 -9.8,0M483.37,383.30a4.9,4.9 0 1,0 9.8,0a4.9,4.9 0 1,0 -9.8,0M485.02,378.47a4.9,4.9 0 1,0 9.8,0a4.9,4.9 0 1,0 -9.8,0M486.66,373.67a4.9,4.9 0 1,0 9.8,0a4.9,4.9 0 1,0 -9.8,0M488.30,368.78a4.9,4.9 0 1,0 9.8,0a4.9,4.9 0 1,0 -9.8,0M489.95,363.96a4.9,4.9 0 1,0 9.8,0a4.9,4.9 0 1,0 -9.8,0M491.59,359.36a4.9,4.9 0 1,0 9.8,0a4.9,4.9 0 1,0 -9.8,0M493.24,354.92a4.9,4.9 0 1,0 9.8,0a4.9,4.9 0 1,0 -9.8,0M494.88,350.61a4.9,4.9 0 1,0 9.8,0a4.9,4.9 0 1,0 -9.8,0M496.52,346.45a4.9,4.9 0 1,0 9.8,0a4.9,4.9 0 1,0 -9.8,0M498.17,342.45a4.9,4.9 0 1,0 9.8,0a4.9,4.9 0 1,0 -9.8,0M499.81,338.60a4.9,4.9 0 1,0 9.8,0a4.9,4.9 0 1,0 -9.8,0M501.46,334.84a4.9,4.9 0 1,0 9.8,0a4.9,4.9 0 1,0 -9.8,0M503.10,331.14a4.9,4.9 0 1,0 9.8,0a4.9,4.9 0 1,0 -9.8,0M504.74,327.52a4.9,4.9 0 1,0 9.8,0a4.9,4.9 0 1,0 -9.8,0M506.39,323.99a4.9,4.9 0 1,0 9.8,0a4.9,4.9 0 1,0 -9.8,0M508.03,320.58a4.9,4.9 0 1,0 9.8,0a4.9,4.9 0 1,0 -9.8,0M509.67,317.30a4.9,4.9 0 1,0 9.8,0a4.9,4.9 0 1,0 -9.8,0M511.32,314.21a4.9,4.9 0 1,0 9.8,0a4.9,4.9 0 1,0 -9.8,0M512.96,311.39a4.9,4.9 0 1,0 9.8,0a4.9,4.9 0 1,0 -9.8,0M514.61,308.87a4.9,4.9 0 1,0 9.8,0a4.9,4.9 0 1,0 -9.8,0M516.25,306.53a4.9,4.9 0 1,0 9.8,0a4.9,4.9 0 1,0 -9.8,0M517.89,304.20a4.9,4.9 0 1,0 9.8,0a4.9,4.9 0 1,0 -9.8,0M519.54,301.68a4.9,4.9 0 1,0 9.8,0a4.9,4.9 0 1,0 -9.8,0M521.18,298.80a4.9,4.9 0 1,0 9.8,0a4.9,4.9 0 1,0 -9.8,0M522.82,295.43a4.9,4.9 0 1,0 9.8,0a4.9,4.9 0 1,0 -9.8,0M524.47,291.69a4.9,4.9 0 1,0 9.8,0a4.9,4.9 0 1,0 -9.8,0M526.11,287.81a4.9,4.9 0 1,0 9.8,0a4.9,4.9 0 1,0 -9.8,0M527.76,284.06a4.9,4.9 0 1,0 9.8,0a4.9,4.9 0 1,0 -9.8,0M529.40,280.66a4.9,4.9 0 1,0 9.8,0a4.9,4.9 0 1,0 -9.8,0M531.04,277.64a4.9,4.9 0 1,0 9.8,0a4.9,4.9 0 1,0 -9.8,0M532.69,274.86a4.9,4.9 0 1,0 9.8,0a4.9,4.9 0 1,0 -9.8,0M534.33,272.27a4.9,4.9 0 1,0 9.8,0a4.9,4.9 0 1,0 -9.8,0M535.98,269.83a4.9,4.9 0 1,0 9.8,0a4.9,4.9 0 1,0 -9.8,0M537.62,267.53a4.9,4.9 0 1,0 9.8,0a4.9,4.9 0 1,0 -9.8,0M539.26,265.39a4.9,4.9 0 1,0 9.8,0a4.9,4.9 0 1,0 -9.8,0M540.91,263.39a4.9,4.9 0 1,0 9.8,0a4.9,4.9 0 1,0 -9.8,0M542.55,261.46a4.9,4.9 0 1,0 9.8,0a4.9,4.9 0 1,0 -9.8,0M544.19,259.54a4.9,4.9 0 1,0 9.8,0a4.9,4.9 0 1,0 -9.8,0M545.84,257.55a4.9,4.9 0 1,0 9.8,0a4.9,4.9 0 1,0 -9.8,0M547.48,255.48a4.9,4.9 0 1,0 9.8,0a4.9,4.9 0 1,0 -9.8,0M549.13,253.42a4.9,4.9 0 1,0 9.8,0a4.9,4.9 0 1,0 -9.8,0M550.77,251.49a4.9,4.9 0 1,0 9.8,0a4.9,4.9 0 1,0 -9.8,0M552.41,249.83a4.9,4.9 0 1,0 9.8,0a4.9,4.9 0 1,0 -9.8,0M554.06,248.45a4.9,4.9 0 1,0 9.8,0a4.9,4.9 0 1,0 -9.8,0M555.70,247.26a4.9,4.9 0 1,0 9.8,0a4.9,4.9 0 1,0 -9.8,0M557.34,246.15a4.9,4.9 0 1,0 9.8,0a4.9,4.9 0 1,0 -9.8,0M558.99,244.96a4.9,4.9 0 1,0 9.8,0a4.9,4.9 0 1,0 -9.8,0M560.63,243.58a4.9,4.9 0 1,0 9.8,0a4.9,4.9 0 1,0 -9.8,0M562.28,241.94a4.9,4.9 0 1,0 9.8,0a4.9,4.9 0 1,0 -9.8,0M563.92,240.12a4.9,4.9 0 1,0 9.8,0a4.9,4.9 0 1,0 -9.8,0M565.56,238.25a4.9,4.9 0 1,0 9.8,0a4.9,4.9 0 1,0 -9.8,0M567.21,236.49a4.9,4.9 0 1,0 9.8,0a4.9,4.9 0 1,0 -9.8,0M568.85,234.89a4.9,4.9 0 1,0 9.8,0a4.9,4.9 0 1,0 -9.8,0M570.50,233.41a4.9,4.9 0 1,0 9.8,0a4.9,4.9 0 1,0 -9.8,0M572.14,231.96a4.9,4.9 0 1,0 9.8,0a4.9,4.9 0 1,0 -9.8,0M573.78,230.43a4.9,4.9 0 1,0 9.8,0a4.9,4.9 0 1,0 -9.8,0M575.43,228.72a4.9,4.9 0 1,0 9.8,0a4.9,4.9 0 1,0 -9.8,0M577.07,226.75a4.9,4.9 0 1,0 9.8,0a4.9,4.9 0 1,0 -9.8,0M578.71,224.57a4.9,4.9 0 1,0 9.8,0a4.9,4.9 0 1,0 -9.8,0M580.36,222.36a4.9,4.9 0 1,0 9.8,0a4.9,4.9 0 1,0 -9.8,0M582.00,220.28a4.9,4.9 0 1,0 9.8,0a4.9,4.9 0 1,0 -9.8,0M583.65,218.34a4.9,4.9 0 1,0 9.8,0a4.9,4.9 0 1,0 -9.8,0M585.29,216.50a4.9,4.9 0 1,0 9.8,0a4.9,4.9 0 1,0 -9.8,0M586.93,214.72a4.9,4.9 0 1,0 9.8,0a4.9,4.9 0 1,0 -9.8,0M588.58,212.99a4.9,4.9 0 1,0 9.8,0a4.9,4.9 0 1,0 -9.8,0M590.22,211.32a4.9,4.9 0 1,0 9.8,0a4.9,4.9 0 1,0 -9.8,0M591.86,209.70a4.9,4.9 0 1,0 9.8,0a4.9,4.9 0 1,0 -9.8,0M593.51,208.17a4.9,4.9 0 1,0 9.8,0a4.9,4.9 0 1,0 -9.8,0M595.15,206.71a4.9,4.9 0 1,0 9.8,0a4.9,4.9 0 1,0 -9.8,0M596.80,205.35a4.9,4.9 0 1,0 9.8,0a4.9,4.9 0 1,0 -9.8,0M598.44,204.08a4.9,4.9 0 1,0 9.8,0a4.9,4.9 0 1,0 -9.8,0M600.08,202.89a4.9,4.9 0 1,0 9.8,0a4.9,4.9 0 1,0 -9.8,0M601.73,201.75a4.9,4.9 0 1,0 9.8,0a4.9,4.9 0 1,0 -9.8,0M603.37,200.65a4.9,4.9 0 1,0 9.8,0a4.9,4.9 0 1,0 -9.8,0M605.01,199.57a4.9,4.9 0 1,0 9.8,0a4.9,4.9 0 1,0 -9.8,0M606.66,198.52a4.9,4.9 0 1,0 9.8,0a4.9,4.9 0 1,0 -9.8,0M608.30,197.51a4.9,4.9 0 1,0 9.8,0a4.9,4.9 0 1,0 -9.8,0M609.95,196.52a4.9,4.9 0 1,0 9.8,0a4.9,4.9 0 1,0 -9.8,0M611.59,195.55a4.9,4.9 0 1,0 9.8,0a4.9,4.9 0 1,0 -9.8,0M613.23,194.59a4.9,4.9 0 1,0 9.8,0a4.9,4.9 0 1,0 -9.8,0M614.88,193.61a4.9,4.9 0 1,0 9.8,0a4.9,4.9 0 1,0 -9.8,0M616.52,192.63a4.9,4.9 0 1,0 9.8,0a4.9,4.9 0 1,0 -9.8,0M618.17,191.63a4.9,4.9 0 1,0 9.8,0a4.9,4.9 0 1,0 -9.8,0M619.81,190.63a4.9,4.9 0 1,0 9.8,0a4.9,4.9 0 1,0 -9.8,0M621.45,189.67a4.9,4.9 0 1,0 9.8,0a4.9,4.9 0 1,0 -9.8,0M623.10,188.76a4.9,4.9 0 1,0 9.8,0a4.9,4.9 0 1,0 -9.8,0M624.74,187.94a4.9,4.9 0 1,0 9.8,0a4.9,4.9 0 1,0 -9.8,0M626.38,187.21a4.9,4.9 0 1,0 9.8,0a4.9,4.9 0 1,0 -9.8,0M628.03,186.56a4.9,4.9 0 1,0 9.8,0a4.9,4.9 0 1,0 -9.8,0M629.67,185.97a4.9,4.9 0 1,0 9.8,0a4.9,4.9 0 1,0 -9.8,0M631.32,185.42a4.9,4.9 0 1,0 9.8,0a4.9,4.9 0 1,0 -9.8,0M632.96,184.89a4.9,4.9 0 1,0 9.8,0a4.9,4.9 0 1,0 -9.8,0M634.60,184.35a4.9,4.9 0 1,0 9.8,0a4.9,4.9 0 1,0 -9.8,0M636.25,183.82a4.9,4.9 0 1,0 9.8,0a4.9,4.9 0 1,0 -9.8,0M637.89,183.28a4.9,4.9 0 1,0 9.8,0a4.9,4.9 0 1,0 -9.8,0M639.53,182.75a4.9,4.9 0 1,0 9.8,0a4.9,4.9 0 1,0 -9.8,0M641.18,182.22a4.9,4.9 0 1,0 9.8,0a4.9,4.9 0 1,0 -9.8,0M642.82,181.71a4.9,4.9 0 1,0 9.8,0a4.9,4.9 0 1,0 -9.8,0M644.47,181.20a4.9,4.9 0 1,0 9.8,0a4.9,4.9 0 1,0 -9.8,0M646.11,180.72a4.9,4.9 0 1,0 9.8,0a4.9,4.9 0 1,0 -9.8,0M647.75,180.24a4.9,4.9 0 1,0 9.8,0a4.9,4.9 0 1,0 -9.8,0M649.40,179.78a4.9,4.9 0 1,0 9.8,0a4.9,4.9 0 1,0 -9.8,0M651.04,179.33a4.9,4.9 0 1,0 9.8,0a4.9,4.9 0 1,0 -9.8,0M652.69,178.87a4.9,4.9 0 1,0 9.8,0a4.9,4.9 0 1,0 -9.8,0M654.33,178.41a4.9,4.9 0 1,0 9.8,0a4.9,4.9 0 1,0 -9.8,0M655.97,177.94a4.9,4.9 0 1,0 9.8,0a4.9,4.9 0 1,0 -9.8,0M657.62,177.45a4.9,4.9 0 1,0 9.8,0a4.9,4.9 0 1,0 -9.8,0M659.26,176.96a4.9,4.9 0 1,0 9.8,0a4.9,4.9 0 1,0 -9.8,0M660.90,176.47a4.9,4.9 0 1,0 9.8,0a4.9,4.9 0 1,0 -9.8,0M662.55,175.97a4.9,4.9 0 1,0 9.8,0a4.9,4.9 0 1,0 -9.8,0M664.19,175.47a4.9,4.9 0 1,0 9.8,0a4.9,4.9 0 1,0 -9.8,0M665.84,174.96a4.9,4.9 0 1,0 9.8,0a4.9,4.9 0 1,0 -9.8,0M667.48,174.45a4.9,4.9 0 1,0 9.8,0a4.9,4.9 0 1,0 -9.8,0M669.12,173.93a4.9,4.9 0 1,0 9.8,0a4.9,4.9 0 1,0 -9.8,0M670.77,173.42a4.9,4.9 0 1,0 9.8,0a4.9,4.9 0 1,0 -9.8,0M672.41,172.94a4.9,4.9 0 1,0 9.8,0a4.9,4.9 0 1,0 -9.8,0M674.05,172.51a4.9,4.9 0 1,0 9.8,0a4.9,4.9 0 1,0 -9.8,0M675.70,172.12a4.9,4.9 0 1,0 9.8,0a4.9,4.9 0 1,0 -9.8,0M677.34,171.80a4.9,4.9 0 1,0 9.8,0a4.9,4.9 0 1,0 -9.8,0M678.99,171.52a4.9,4.9 0 1,0 9.8,0a4.9,4.9 0 1,0 -9.8,0M680.63,171.27a4.9,4.9 0 1,0 9.8,0a4.9,4.9 0 1,0 -9.8,0M682.27,171.03a4.9,4.9 0 1,0 9.8,0a4.9,4.9 0 1,0 -9.8,0M683.92,170.77a4.9,4.9 0 1,0 9.8,0a4.9,4.9 0 1,0 -9.8,0M685.56,170.50a4.9,4.9 0 1,0 9.8,0a4.9,4.9 0 1,0 -9.8,0M687.20,170.21a4.9,4.9 0 1,0 9.8,0a4.9,4.9 0 1,0 -9.8,0M688.85,169.90a4.9,4.9 0 1,0 9.8,0a4.9,4.9 0 1,0 -9.8,0M690.49,169.58a4.9,4.9 0 1,0 9.8,0a4.9,4.9 0 1,0 -9.8,0M692.14,169.25a4.9,4.9 0 1,0 9.8,0a4.9,4.9 0 1,0 -9.8,0M693.78,168.91a4.9,4.9 0 1,0 9.8,0a4.9,4.9 0 1,0 -9.8,0M695.42,168.57a4.9,4.9 0 1,0 9.8,0a4.9,4.9 0 1,0 -9.8,0M697.07,168.21a4.9,4.9 0 1,0 9.8,0a4.9,4.9 0 1,0 -9.8,0M698.71,167.83a4.9,4.9 0 1,0 9.8,0a4.9,4.9 0 1,0 -9.8,0M700.36,167.45a4.9,4.9 0 1,0 9.8,0a4.9,4.9 0 1,0 -9.8,0M702.00,167.05a4.9,4.9 0 1,0 9.8,0a4.9,4.9 0 1,0 -9.8,0M703.64,166.64a4.9,4.9 0 1,0 9.8,0a4.9,4.9 0 1,0 -9.8,0M705.29,166.22a4.9,4.9 0 1,0 9.8,0a4.9,4.9 0 1,0 -9.8,0M706.93,165.80a4.9,4.9 0 1,0 9.8,0a4.9,4.9 0 1,0 -9.8,0M708.57,165.39a4.9,4.9 0 1,0 9.8,0a4.9,4.9 0 1,0 -9.8,0M710.22,164.98a4.9,4.9 0 1,0 9.8,0a4.9,4.9 0 1,0 -9.8,0M711.86,164.59a4.9,4.9 0 1,0 9.8,0a4.9,4.9 0 1,0 -9.8,0M713.51,164.20a4.9,4.9 0 1,0 9.8,0a4.9,4.9 0 1,0 -9.8,0M715.15,163.82a4.9,4.9 0 1,0 9.8,0a4.9,4.9 0 1,0 -9.8,0M716.79,163.43a4.9,4.9 0 1,0 9.8,0a4.9,4.9 0 1,0 -9.8,0M718.44,163.02a4.9,4.9 0 1,0 9.8,0a4.9,4.9 0 1,0 -9.8,0M720.08,162.59a4.9,4.9 0 1,0 9.8,0a4.9,4.9 0 1,0 -9.8,0M721.72,162.12a4.9,4.9 0 1,0 9.8,0a4.9,4.9 0 1,0 -9.8,0M723.37,161.61a4.9,4.9 0 1,0 9.8,0a4.9,4.9 0 1,0 -9.8,0M725.01,161.04a4.9,4.9 0 1,0 9.8,0a4.9,4.9 0 1,0 -9.8,0M726.66,160.43a4.9,4.9 0 1,0 9.8,0a4.9,4.9 0 1,0 -9.8,0M728.30,159.79a4.9,4.9 0 1,0 9.8,0a4.9,4.9 0 1,0 -9.8,0M729.94,159.15a4.9,4.9 0 1,0 9.8,0a4.9,4.9 0 1,0 -9.8,0M731.59,158.51a4.9,4.9 0 1,0 9.8,0a4.9,4.9 0 1,0 -9.8,0M733.23,157.91a4.9,4.9 0 1,0 9.8,0a4.9,4.9 0 1,0 -9.8,0M734.88,157.34a4.9,4.9 0 1,0 9.8,0a4.9,4.9 0 1,0 -9.8,0M736.52,156.80a4.9,4.9 0 1,0 9.8,0a4.9,4.9 0 1,0 -9.8,0M738.16,156.30a4.9,4.9 0 1,0 9.8,0a4.9,4.9 0 1,0 -9.8,0M739.81,155.80a4.9,4.9 0 1,0 9.8,0a4.9,4.9 0 1,0 -9.8,0M741.45,155.30a4.9,4.9 0 1,0 9.8,0a4.9,4.9 0 1,0 -9.8,0M743.09,154.79a4.9,4.9 0 1,0 9.8,0a4.9,4.9 0 1,0 -9.8,0M744.74,154.26a4.9,4.9 0 1,0 9.8,0a4.9,4.9 0 1,0 -9.8,0M746.38,153.72a4.9,4.9 0 1,0 9.8,0a4.9,4.9 0 1,0 -9.8,0M748.03,153.17a4.9,4.9 0 1,0 9.8,0a4.9,4.9 0 1,0 -9.8,0M749.67,152.62a4.9,4.9 0 1,0 9.8,0a4.9,4.9 0 1,0 -9.8,0M751.31,152.07a4.9,4.9 0 1,0 9.8,0a4.9,4.9 0 1,0 -9.8,0M752.96,151.53a4.9,4.9 0 1,0 9.8,0a4.9,4.9 0 1,0 -9.8,0M754.60,150.99a4.9,4.9 0 1,0 9.8,0a4.9,4.9 0 1,0 -9.8,0M756.24,150.46a4.9,4.9 0 1,0 9.8,0a4.9,4.9 0 1,0 -9.8,0M757.89,149.95a4.9,4.9 0 1,0 9.8,0a4.9,4.9 0 1,0 -9.8,0M759.53,149.44a4.9,4.9 0 1,0 9.8,0a4.9,4.9 0 1,0 -9.8,0M761.18,148.94a4.9,4.9 0 1,0 9.8,0a4.9,4.9 0 1,0 -9.8,0M762.82,148.44a4.9,4.9 0 1,0 9.8,0a4.9,4.9 0 1,0 -9.8,0M764.46,147.95a4.9,4.9 0 1,0 9.8,0a4.9,4.9 0 1,0 -9.8,0M766.11,147.47a4.9,4.9 0 1,0 9.8,0a4.9,4.9 0 1,0 -9.8,0M767.75,146.99a4.9,4.9 0 1,0 9.8,0a4.9,4.9 0 1,0 -9.8,0M769.39,146.52a4.9,4.9 0 1,0 9.8,0a4.9,4.9 0 1,0 -9.8,0M771.04,146.06a4.9,4.9 0 1,0 9.8,0a4.9,4.9 0 1,0 -9.8,0M772.68,145.61a4.9,4.9 0 1,0 9.8,0a4.9,4.9 0 1,0 -9.8,0M774.33,145.17a4.9,4.9 0 1,0 9.8,0a4.9,4.9 0 1,0 -9.8,0M775.97,144.73a4.9,4.9 0 1,0 9.8,0a4.9,4.9 0 1,0 -9.8,0M777.61,144.30a4.9,4.9 0 1,0 9.8,0a4.9,4.9 0 1,0 -9.8,0M779.26,143.86a4.9,4.9 0 1,0 9.8,0a4.9,4.9 0 1,0 -9.8,0M780.90,143.42a4.9,4.9 0 1,0 9.8,0a4.9,4.9 0 1,0 -9.8,0M782.55,142.98a4.9,4.9 0 1,0 9.8,0a4.9,4.9 0 1,0 -9.8,0M784.19,142.54a4.9,4.9 0 1,0 9.8,0a4.9,4.9 0 1,0 -9.8,0M785.83,142.11a4.9,4.9 0 1,0 9.8,0a4.9,4.9 0 1,0 -9.8,0" fill="#ff7f0e"/>
</g>
<line x1="739" y1="568.5" x2="739" y2="15.5" stroke="#1f77b4" stroke-opacity="0.6" stroke-width="2.08" stroke-dasharray="7.6 3.45" stroke-dashoffset="-0.9"/>
<rect x="77.5" y="15.5" width="708.0" height="553.00" fill="none" stroke="#000" stroke-width="1.11"/>
<line x1="72.64" y1="568.50" x2="77.5" y2="568.50" stroke="#000" stroke-width="1.11"/>
<text x="60.50" y="573.90" font-size="14.10" textLength="8.00" lengthAdjust="spacingAndGlyphs">0</text>
<line x1="72.64" y1="505.50" x2="77.5" y2="505.50" stroke="#000" stroke-width="1.11"/>
<text x="14.50" y="510.90" font-size="14.10" textLength="52.50" lengthAdjust="spacingAndGlyphs">100000</text>
<line x1="72.64" y1="441.50" x2="77.5" y2="441.50" stroke="#000" stroke-width="1.11"/>
<text x="14.50" y="446.90" font-size="14.10" textLength="52.50" lengthAdjust="spacingAndGlyphs">200000</text>
<line x1="72.64" y1="377.50" x2="77.5" y2="377.50" stroke="#000" stroke-width="1.11"/>
<text x="14.50" y="382.90" font-size="14.10" textLength="52.50" lengthAdjust="spacingAndGlyphs">300000</text>
<line x1="72.64" y1="313.50" x2="77.5" y2="313.50" stroke="#000" stroke-width="1.11"/>
<text x="14.50" y="318.90" font-size="14.10" textLength="52.50" lengthAdjust="spacingAndGlyphs">400000</text>
<line x1="72.64" y1="249.50" x2="77.5" y2="249.50" stroke="#000" stroke-width="1.11"/>
<text x="14.50" y="254.90" font-size="14.10" textLength="52.50" lengthAdjust="spacingAndGlyphs">500000</text>
<line x1="72.64" y1="186.50" x2="77.5" y2="186.50" stroke="#000" stroke-width="1.11"/>
<text x="14.50" y="191.90" font-size="14.10" textLength="52.50" lengthAdjust="spacingAndGlyphs">600000</text>
<line x1="72.64" y1="122.50" x2="77.5" y2="122.50" stroke="#000" stroke-width="1.11"/>
<text x="14.50" y="127.90" font-size="14.10" textLength="52.50" lengthAdjust="spacingAndGlyphs">700000</text>
<line x1="72.64" y1="58.50" x2="77.5" y2="58.50" stroke="#000" stroke-width="1.11"/>
<text x="14.50" y="63.90" font-size="14.10" textLength="52.50" lengthAdjust="spacingAndGlyphs">800000</text>
<line x1="77.5" y1="568.5" x2="77.5" y2="573.36" stroke="#000" stroke-width="1.11"/>
<line x1="123.5" y1="568.5" x2="123.5" y2="573.36" stroke="#000" stroke-width="1.11"/>
<line x1="273.5" y1="568.5" x2="273.5" y2="573.36" stroke="#000" stroke-width="1.11"/>
<line x1="424.5" y1="568.5" x2="424.5" y2="573.36" stroke="#000" stroke-width="1.11"/>
<line x1="575.5" y1="568.5" x2="575.5" y2="573.36" stroke="#000" stroke-width="1.11"/>
<line x1="723.5" y1="568.5" x2="723.5" y2="573.36" stroke="#000" stroke-width="1.11"/>
<line x1="785.5" y1="568.5" x2="785.5" y2="573.36" stroke="#000" stroke-width="1.11"/>
<line x1="173.5" y1="568.5" x2="173.5" y2="571.28" stroke="#000" stroke-width="0.83"/>
<line x1="223.5" y1="568.5" x2="223.5" y2="571.28" stroke="#000" stroke-width="0.83"/>
<line x1="324.5" y1="568.5" x2="324.5" y2="571.28" stroke="#000" stroke-width="0.83"/>
<line x1="375.5" y1="568.5" x2="375.5" y2="571.28" stroke="#000" stroke-width="0.83"/>
<line x1="475.5" y1="568.5" x2="475.5" y2="571.28" stroke="#000" stroke-width="0.83"/>
<line x1="524.5" y1="568.5" x2="524.5" y2="571.28" stroke="#000" stroke-width="0.83"/>
<line x1="626.5" y1="568.5" x2="626.5" y2="571.28" stroke="#000" stroke-width="0.83"/>
<line x1="672.5" y1="568.5" x2="672.5" y2="571.28" stroke="#000" stroke-width="0.83"/>
<line x1="772.5" y1="568.5" x2="772.5" y2="571.28" stroke="#000" stroke-width="0.83"/>
<rect x="84.5" y="22.40" width="120.9" height="24.7" rx="2.8" ry="2.8" fill="#fff" fill-opacity="0.8" stroke="#cccccc" stroke-width="1.11"/>
<line x1="89" y1="34.00" x2="119" y2="34.00" stroke="#1f77b4" stroke-width="2.08"/>
<text x="129.20" y="37.90" font-size="14.10" textLength="69.00" lengthAdjust="spacingAndGlyphs">confirmed</text>
<text x="320.20" y="35.80" font-size="16.90" textLength="154.50" lengthAdjust="spacingAndGlyphs">Wisconsin 28 days</text>
<line x1="77.5" y1="1145.50" x2="785.5" y2="1145.50" stroke="#b0b0b0" stroke-width="1.11"/>
<line x1="77.5" y1="1026.50" x2="785.5" y2="1026.50" stroke="#b0b0b0" stroke-width="1.11"/>
<line x1="77.5" y1="906.50" x2="785.5" y2="906.50" stroke="#b0b0b0" stroke-width="1.11"/>
<line x1="77.5" y1="787.50" x2="785.5" y2="787.50" stroke="#b0b0b0" stroke-width="1.11"/>
<line x1="77.5" y1="667.50" x2="785.5" y2="667.50" stroke="#b0b0b0" stroke-width="1.11"/>
<g clip-path="url(#cb)">
<path d="M100.00,1144.81 L103.00,1143.96 L106.00,1142.86 L109.00,1141.65 L112.00,1140.38 L115.00,1139.48 L118.00,1138.51 L121.00,1137.49 L124.00,1136.41 L127.00,1135.27 L130.00,1134.08 L133.00,1132.83 L136.00,1131.51 L139.00,1130.12 L142.00,1128.67 L145.00,1127.17 L148.00,1125.66 L151.00,1124.12 L154.00,1122.57 L157.00,1121.06 L160.00,1119.63 L163.00,1118.26 L166.00,1116.99 L169.00,1115.86 L172.00,1114.76 L175.00,1113.68 L178.00,1112.61 L181.00,1111.56 L184.00,1110.53 L187.00,1109.51 L190.00,1108.51 L193.00,1107.46 L196.00,1106.42 L199.00,1105.41 L202.00,1104.44 L205.00,1103.52 L208.00,1102.64 L211.00,1101.81 L214.00,1101.01 L217.00,1100.23 L220.00,1099.48 L223.00,1098.75 L226.00,1098.05 L229.00,1097.36 L232.00,1096.70 L235.00,1096.05 L238.00,1095.45 L241.00,1094.76 L244.00,1093.88 L247.00,1093.05 L250.00,1092.26 L253.00,1091.52 L256.00,1090.81 L259.00,1090.13 L262.00,1089.47 L265.00,1088.83 L268.00,1088.19 L271.00,1087.55 L274.00,1086.90 L277.00,1086.24 L280.00,1085.58 L283.00,1084.91 L286.00,1084.25 L289.00,1083.60 L292.00,1082.94 L295.00,1082.28 L298.00,1081.62 L301.00,1080.94 L304.00,1080.26 L307.00,1079.56 L310.00,1078.85 L313.00,1078.13 L316.00,1077.39 L319.00,1076.64 L322.00,1075.87 L325.00,1075.08 L328.00,1074.28 L331.00,1073.47 L334.00,1072.65 L337.00,1071.84 L340.00,1071.03 L343.00,1070.23 L346.00,1069.44 L349.00,1068.66 L352.00,1067.88 L355.00,1067.10 L358.00,1066.31 L361.00,1065.52 L364.00,1064.73 L367.00,1063.93 L370.00,1063.13 L373.00,1062.33 L376.00,1061.51 L379.00,1060.68 L382.00,1059.83 L385.00,1058.96 L388.00,1058.06 L391.00,1057.13 L394.00,1056.17 L397.00,1055.17 L400.00,1054.13 L403.00,1052.96 L406.00,1051.72 L409.00,1050.40 L412.00,1048.99 L415.00,1047.53 L418.00,1045.97 L421.00,1044.29 L424.00,1042.47 L427.00,1040.49 L430.00,1038.32 L433.00,1035.95 L436.00,1033.39 L439.00,1030.63 L442.00,1027.64 L445.00,1024.40 L448.00,1020.89 L451.00,1017.13 L454.00,1013.12 L457.00,1008.96 L460.00,1004.73 L463.00,1000.49 L466.00,996.26 L469.00,992.10 L472.00,987.94 L475.00,983.74 L478.00,979.51 L481.00,975.18 L484.00,970.72 L487.00,966.13 L490.00,961.44 L493.00,956.66 L496.00,951.80 L499.00,946.82 L502.00,941.63 L505.00,936.14 L508.00,930.26 L511.00,923.86 L514.00,917.00 L517.00,909.99 L520.00,903.17 L523.00,896.61 L526.00,890.08 L529.00,883.42 L532.00,876.53 L535.00,869.47 L538.00,862.30 L541.00,855.10 L544.00,848.14 L547.00,841.47 L550.00,834.97 L553.00,828.61 L556.00,822.64 L559.00,817.16 L562.00,811.79 L565.00,806.49 L568.00,801.32 L571.00,796.31 L574.00,791.46 L577.00,786.77 L580.00,782.19 L583.00,777.66 L586.00,773.15 L589.00,768.69 L592.00,764.27 L595.00,759.75 L598.00,755.15 L601.00,750.70 L604.00,746.41 L607.00,742.24 L610.00,738.21 L613.00,733.97 L616.00,729.84 L619.00,725.86 L622.00,722.04 L625.00,718.39 L628.00,714.89 L631.00,711.53 L634.00,708.29 L637.00,705.19 L640.00,702.21 L643.00,699.37 L646.00,696.65 L649.00,694.04 L652.00,691.54 L655.00,689.14 L658.00,686.81 L661.00,684.57 L664.00,682.40 L667.00,680.32 L670.00,678.33 L673.00,676.42 L676.00,674.59 L679.00,672.84 L682.00,671.15 L685.00,669.53 L688.00,667.96 L691.00,666.46 L694.00,665.01 L697.00,663.61 L700.00,662.27 L703.00,660.97 L706.00,659.72 L709.00,658.52 L712.00,657.37 L715.00,656.28 L718.00,655.25 L721.00,654.26 L724.00,653.31 L727.00,652.37 L730.00,651.42 L733.00,650.46 L736.00,649.48 L739.00,648.48 L739.00,735.27 L736.00,736.09 L733.00,736.90 L730.00,737.70 L727.00,738.48 L724.00,739.25 L721.00,740.03 L718.00,740.85 L715.00,741.71 L712.00,742.61 L709.00,743.55 L706.00,744.54 L703.00,745.58 L700.00,746.65 L697.00,747.76 L694.00,748.91 L691.00,750.10 L688.00,751.35 L685.00,752.64 L682.00,753.98 L679.00,755.37 L676.00,756.82 L673.00,758.33 L670.00,759.90 L667.00,761.55 L664.00,763.27 L661.00,765.05 L658.00,766.90 L655.00,768.82 L652.00,770.81 L649.00,772.87 L646.00,775.02 L643.00,777.27 L640.00,779.62 L637.00,782.07 L634.00,784.63 L631.00,787.30 L628.00,790.08 L625.00,792.96 L622.00,795.98 L619.00,799.13 L616.00,802.42 L613.00,805.82 L610.00,809.33 L607.00,813.44 L604.00,817.64 L601.00,821.94 L598.00,826.34 L595.00,830.86 L592.00,835.29 L589.00,839.64 L586.00,844.00 L583.00,848.37 L580.00,852.76 L577.00,857.16 L574.00,861.63 L571.00,866.22 L568.00,870.93 L565.00,875.73 L562.00,880.62 L559.00,885.55 L556.00,890.54 L553.00,895.90 L550.00,901.54 L547.00,907.27 L544.00,913.10 L541.00,919.14 L538.00,925.34 L535.00,931.48 L532.00,937.38 L529.00,942.90 L526.00,948.22 L523.00,953.44 L520.00,958.67 L517.00,964.09 L514.00,969.65 L511.00,975.08 L508.00,980.14 L505.00,984.80 L502.00,989.15 L499.00,993.26 L496.00,997.20 L493.00,1001.05 L490.00,1004.82 L487.00,1008.52 L484.00,1012.14 L481.00,1015.65 L478.00,1019.05 L475.00,1022.38 L472.00,1025.67 L469.00,1028.93 L466.00,1032.19 L463.00,1035.48 L460.00,1038.79 L457.00,1042.08 L454.00,1045.30 L451.00,1048.41 L448.00,1051.39 L445.00,1054.19 L442.00,1056.78 L439.00,1059.18 L436.00,1061.39 L433.00,1063.45 L430.00,1065.35 L427.00,1067.10 L424.00,1068.71 L421.00,1070.18 L418.00,1071.55 L415.00,1072.83 L412.00,1074.02 L409.00,1075.19 L406.00,1076.29 L403.00,1077.32 L400.00,1078.30 L397.00,1079.18 L394.00,1080.03 L391.00,1080.85 L388.00,1081.64 L385.00,1082.41 L382.00,1083.16 L379.00,1083.89 L376.00,1084.60 L373.00,1085.30 L370.00,1085.99 L367.00,1086.67 L364.00,1087.35 L361.00,1088.03 L358.00,1088.70 L355.00,1089.36 L352.00,1090.03 L349.00,1090.68 L346.00,1091.34 L343.00,1092.00 L340.00,1092.66 L337.00,1093.33 L334.00,1094.00 L331.00,1094.67 L328.00,1095.34 L325.00,1096.00 L322.00,1096.64 L319.00,1097.27 L316.00,1097.89 L313.00,1098.49 L310.00,1099.05 L307.00,1099.58 L304.00,1100.11 L301.00,1100.62 L298.00,1101.13 L295.00,1101.63 L292.00,1102.12 L289.00,1102.61 L286.00,1103.10 L283.00,1103.59 L280.00,1104.08 L277.00,1104.58 L274.00,1105.06 L271.00,1105.55 L268.00,1106.02 L265.00,1106.49 L262.00,1106.96 L259.00,1107.45 L256.00,1107.94 L253.00,1108.46 L250.00,1109.00 L247.00,1109.57 L244.00,1110.16 L241.00,1110.79 L238.00,1111.49 L235.00,1112.22 L232.00,1112.94 L229.00,1113.66 L226.00,1114.36 L223.00,1115.05 L220.00,1115.73 L217.00,1116.41 L214.00,1117.08 L211.00,1117.75 L208.00,1118.42 L205.00,1119.09 L202.00,1119.78 L199.00,1120.54 L196.00,1121.43 L193.00,1122.31 L190.00,1123.19 L187.00,1124.08 L184.00,1124.95 L181.00,1125.82 L178.00,1126.67 L175.00,1127.51 L172.00,1128.34 L169.00,1129.16 L166.00,1129.98 L163.00,1130.77 L160.00,1131.58 L157.00,1132.41 L154.00,1133.27 L151.00,1134.15 L148.00,1135.03 L145.00,1135.90 L142.00,1136.74 L139.00,1137.55 L136.00,1138.32 L133.00,1139.04 L130.00,1139.72 L127.00,1140.36 L124.00,1140.96 L121.00,1141.53 L118.00,1142.06 L115.00,1142.55 L112.00,1143.01 L109.00,1143.65 L106.00,1144.24 L103.00,1144.77 L100.00,1145.17 Z" fill="#1f77b4" fill-opacity="0.1" stroke="#1f77b4" stroke-opacity="0.1" stroke-width="1"/>
<path d="M100.00,1144.93 L103.00,1144.23 L106.00,1143.31 L109.00,1142.30 L112.00,1141.23 L115.00,1140.47 L118.00,1139.66 L121.00,1138.79 L124.00,1137.87 L127.00,1136.91 L130.00,1135.89 L133.00,1134.82 L136.00,1133.68 L139.00,1132.49 L142.00,1131.23 L145.00,1129.94 L148.00,1128.62 L151.00,1127.28 L154.00,1125.93 L157.00,1124.60 L160.00,1123.34 L163.00,1122.13 L166.00,1120.98 L169.00,1119.92 L172.00,1118.87 L175.00,1117.83 L178.00,1116.80 L181.00,1115.77 L184.00,1114.76 L187.00,1113.75 L190.00,1112.75 L193.00,1111.71 L196.00,1110.69 L199.00,1109.68 L202.00,1108.70 L205.00,1107.77 L208.00,1106.87 L211.00,1106.00 L214.00,1105.15 L217.00,1104.33 L220.00,1103.52 L223.00,1102.73 L226.00,1101.96 L229.00,1101.20 L232.00,1100.45 L235.00,1099.72 L238.00,1099.02 L241.00,1098.29 L244.00,1097.46 L247.00,1096.68 L250.00,1095.93 L253.00,1095.23 L256.00,1094.55 L259.00,1093.91 L262.00,1093.29 L265.00,1092.67 L268.00,1092.07 L271.00,1091.46 L274.00,1090.84 L277.00,1090.21 L280.00,1089.57 L283.00,1088.94 L286.00,1088.31 L289.00,1087.68 L292.00,1087.06 L295.00,1086.43 L298.00,1085.79 L301.00,1085.15 L304.00,1084.49 L307.00,1083.83 L310.00,1083.15 L313.00,1082.46 L316.00,1081.76 L319.00,1081.04 L322.00,1080.30 L325.00,1079.54 L328.00,1078.78 L331.00,1078.00 L334.00,1077.22 L337.00,1076.44 L340.00,1075.66 L343.00,1074.90 L346.00,1074.14 L349.00,1073.39 L352.00,1072.64 L355.00,1071.89 L358.00,1071.13 L361.00,1070.37 L364.00,1069.61 L367.00,1068.84 L370.00,1068.07 L373.00,1067.30 L376.00,1066.52 L379.00,1065.72 L382.00,1064.90 L385.00,1064.05 L388.00,1063.19 L391.00,1062.29 L394.00,1061.37 L397.00,1060.41 L400.00,1059.40 L403.00,1058.28 L406.00,1057.09 L409.00,1055.82 L412.00,1054.47 L415.00,1053.06 L418.00,1051.54 L421.00,1049.92 L424.00,1048.16 L427.00,1046.25 L430.00,1044.15 L433.00,1041.87 L436.00,1039.41 L439.00,1036.75 L442.00,1033.87 L445.00,1030.75 L448.00,1027.38 L451.00,1023.77 L454.00,1019.94 L457.00,1015.96 L460.00,1011.92 L463.00,1007.85 L466.00,1003.81 L469.00,999.82 L472.00,995.83 L475.00,991.81 L478.00,987.74 L481.00,983.59 L484.00,979.31 L487.00,974.90 L490.00,970.40 L493.00,965.81 L496.00,961.14 L499.00,956.36 L502.00,951.36 L505.00,946.08 L508.00,940.44 L511.00,934.29 L514.00,927.69 L517.00,920.95 L520.00,914.40 L523.00,908.08 L526.00,901.79 L529.00,895.37 L532.00,888.73 L535.00,881.92 L538.00,874.99 L541.00,868.03 L544.00,861.29 L547.00,854.82 L550.00,848.52 L553.00,842.34 L556.00,836.53 L559.00,831.19 L562.00,825.95 L565.00,820.77 L568.00,815.72 L571.00,810.81 L574.00,806.06 L577.00,801.46 L580.00,796.96 L583.00,792.50 L586.00,788.06 L589.00,783.67 L592.00,779.30 L595.00,774.85 L598.00,770.31 L601.00,765.92 L604.00,761.67 L607.00,757.55 L610.00,753.54 L613.00,749.46 L616.00,745.49 L619.00,741.66 L622.00,737.98 L625.00,734.47 L628.00,731.10 L631.00,727.87 L634.00,724.76 L637.00,721.77 L640.00,718.90 L643.00,716.17 L646.00,713.55 L649.00,711.04 L652.00,708.63 L655.00,706.32 L658.00,704.08 L661.00,701.93 L664.00,699.84 L667.00,697.84 L670.00,695.92 L673.00,694.08 L676.00,692.32 L679.00,690.64 L682.00,689.01 L685.00,687.45 L688.00,685.94 L691.00,684.49 L694.00,683.10 L697.00,681.76 L700.00,680.47 L703.00,679.22 L706.00,678.01 L709.00,676.86 L712.00,675.75 L715.00,674.70 L718.00,673.70 L721.00,672.75 L724.00,671.84 L727.00,670.94 L730.00,670.03 L733.00,669.10 L736.00,668.16 L739.00,667.20 L739.00,722.04 L736.00,722.90 L733.00,723.73 L730.00,724.55 L727.00,725.36 L724.00,726.15 L721.00,726.96 L718.00,727.81 L715.00,728.69 L712.00,729.62 L709.00,730.60 L706.00,731.62 L703.00,732.69 L700.00,733.79 L697.00,734.94 L694.00,736.12 L691.00,737.36 L688.00,738.64 L685.00,739.97 L682.00,741.36 L679.00,742.80 L676.00,744.29 L673.00,745.85 L670.00,747.47 L667.00,749.17 L664.00,750.95 L661.00,752.79 L658.00,754.70 L655.00,756.68 L652.00,758.73 L649.00,760.86 L646.00,763.08 L643.00,765.40 L640.00,767.82 L637.00,770.36 L634.00,773.00 L631.00,775.76 L628.00,778.62 L625.00,781.60 L622.00,784.71 L619.00,787.97 L616.00,791.36 L613.00,794.88 L610.00,798.49 L607.00,802.46 L604.00,806.53 L601.00,810.70 L598.00,814.99 L595.00,819.40 L592.00,823.73 L589.00,827.97 L586.00,832.22 L583.00,836.51 L580.00,840.80 L577.00,845.12 L574.00,849.52 L571.00,854.04 L568.00,858.69 L565.00,863.45 L562.00,868.31 L559.00,873.21 L556.00,878.19 L553.00,883.57 L550.00,889.24 L547.00,895.01 L544.00,900.91 L541.00,907.03 L538.00,913.33 L535.00,919.58 L532.00,925.66 L529.00,931.49 L526.00,937.11 L523.00,942.62 L520.00,948.15 L517.00,953.88 L514.00,959.75 L511.00,965.49 L508.00,970.84 L505.00,975.76 L502.00,980.36 L499.00,984.71 L496.00,988.87 L493.00,992.94 L490.00,996.93 L487.00,1000.84 L484.00,1004.67 L481.00,1008.38 L478.00,1011.98 L475.00,1015.50 L472.00,1018.99 L469.00,1022.43 L466.00,1025.88 L463.00,1029.36 L460.00,1032.86 L457.00,1036.34 L454.00,1039.75 L451.00,1043.04 L448.00,1046.18 L445.00,1049.13 L442.00,1051.86 L439.00,1054.38 L436.00,1056.71 L433.00,1058.87 L430.00,1060.87 L427.00,1062.72 L424.00,1064.41 L421.00,1065.96 L418.00,1067.40 L415.00,1068.75 L412.00,1070.01 L409.00,1071.20 L406.00,1072.32 L403.00,1073.37 L400.00,1074.37 L397.00,1075.27 L394.00,1076.13 L391.00,1076.96 L388.00,1077.77 L385.00,1078.54 L382.00,1079.30 L379.00,1080.04 L376.00,1080.76 L373.00,1081.46 L370.00,1082.16 L367.00,1082.85 L364.00,1083.54 L361.00,1084.23 L358.00,1084.91 L355.00,1085.58 L352.00,1086.25 L349.00,1086.92 L346.00,1087.59 L343.00,1088.26 L340.00,1088.94 L337.00,1089.62 L334.00,1090.31 L331.00,1090.99 L328.00,1091.68 L325.00,1092.35 L322.00,1093.01 L319.00,1093.66 L316.00,1094.29 L313.00,1094.90 L310.00,1095.49 L307.00,1096.07 L304.00,1096.64 L301.00,1097.19 L298.00,1097.74 L295.00,1098.28 L292.00,1098.81 L289.00,1099.34 L286.00,1099.87 L283.00,1100.40 L280.00,1100.94 L277.00,1101.47 L274.00,1102.00 L271.00,1102.52 L268.00,1103.03 L265.00,1103.54 L262.00,1104.05 L259.00,1104.57 L256.00,1105.11 L253.00,1105.67 L250.00,1106.25 L247.00,1106.87 L244.00,1107.51 L241.00,1108.19 L238.00,1108.93 L235.00,1109.69 L232.00,1110.45 L229.00,1111.21 L226.00,1111.97 L223.00,1112.71 L220.00,1113.46 L217.00,1114.20 L214.00,1114.94 L211.00,1115.69 L208.00,1116.44 L205.00,1117.19 L202.00,1117.97 L199.00,1118.80 L196.00,1119.72 L193.00,1120.64 L190.00,1121.56 L187.00,1122.48 L184.00,1123.39 L181.00,1124.30 L178.00,1125.19 L175.00,1126.07 L172.00,1126.95 L169.00,1127.82 L166.00,1128.68 L163.00,1129.54 L160.00,1130.41 L157.00,1131.31 L154.00,1132.25 L151.00,1133.20 L148.00,1134.15 L145.00,1135.08 L142.00,1135.98 L139.00,1136.86 L136.00,1137.69 L133.00,1138.47 L130.00,1139.20 L127.00,1139.89 L124.00,1140.54 L121.00,1141.16 L118.00,1141.74 L115.00,1142.27 L112.00,1142.77 L109.00,1143.47 L106.00,1144.11 L103.00,1144.70 L100.00,1145.14 Z" fill="#1f77b4" fill-opacity="0.1" stroke="#1f77b4" stroke-opacity="0.1" stroke-width="1"/>
<path d="M100.00,1145.01 L103.00,1144.40 L106.00,1143.61 L109.00,1142.74 L112.00,1141.81 L115.00,1141.14 L118.00,1140.43 L121.00,1139.67 L124.00,1138.86 L127.00,1138.01 L130.00,1137.11 L133.00,1136.16 L136.00,1135.16 L139.00,1134.10 L142.00,1132.98 L145.00,1131.83 L148.00,1130.65 L151.00,1129.45 L154.00,1128.23 L157.00,1127.04 L160.00,1125.89 L163.00,1124.79 L166.00,1123.73 L169.00,1122.72 L172.00,1121.72 L175.00,1120.72 L178.00,1119.73 L181.00,1118.73 L184.00,1117.73 L187.00,1116.74 L190.00,1115.75 L193.00,1114.73 L196.00,1113.72 L199.00,1112.73 L202.00,1111.76 L205.00,1110.82 L208.00,1109.91 L211.00,1109.02 L214.00,1108.16 L217.00,1107.30 L220.00,1106.46 L223.00,1105.64 L226.00,1104.82 L229.00,1104.01 L232.00,1103.21 L235.00,1102.43 L238.00,1101.67 L241.00,1100.91 L244.00,1100.11 L247.00,1099.36 L250.00,1098.65 L253.00,1097.97 L256.00,1097.33 L259.00,1096.71 L262.00,1096.11 L265.00,1095.52 L268.00,1094.94 L271.00,1094.35 L274.00,1093.75 L277.00,1093.15 L280.00,1092.54 L283.00,1091.93 L286.00,1091.32 L289.00,1090.72 L292.00,1090.12 L295.00,1089.51 L298.00,1088.90 L301.00,1088.27 L304.00,1087.64 L307.00,1087.00 L310.00,1086.34 L313.00,1085.68 L316.00,1085.00 L319.00,1084.31 L322.00,1083.60 L325.00,1082.87 L328.00,1082.13 L331.00,1081.37 L334.00,1080.62 L337.00,1079.87 L340.00,1079.12 L343.00,1078.38 L346.00,1077.65 L349.00,1076.92 L352.00,1076.20 L355.00,1075.47 L358.00,1074.73 L361.00,1074.00 L364.00,1073.26 L367.00,1072.51 L370.00,1071.77 L373.00,1071.01 L376.00,1070.25 L379.00,1069.48 L382.00,1068.68 L385.00,1067.86 L388.00,1067.02 L391.00,1066.16 L394.00,1065.26 L397.00,1064.33 L400.00,1063.35 L403.00,1062.26 L406.00,1061.11 L409.00,1059.89 L412.00,1058.58 L415.00,1057.20 L418.00,1055.73 L421.00,1054.14 L424.00,1052.44 L427.00,1050.57 L430.00,1048.54 L433.00,1046.32 L436.00,1043.93 L439.00,1041.35 L442.00,1038.56 L445.00,1035.53 L448.00,1032.26 L451.00,1028.77 L454.00,1025.07 L457.00,1021.23 L460.00,1017.33 L463.00,1013.40 L466.00,1009.50 L469.00,1005.63 L472.00,1001.78 L475.00,997.89 L478.00,993.96 L481.00,989.94 L484.00,985.79 L487.00,981.52 L490.00,977.16 L493.00,972.72 L496.00,968.19 L499.00,963.56 L502.00,958.72 L505.00,953.60 L508.00,948.13 L511.00,942.17 L514.00,935.78 L517.00,929.25 L520.00,922.89 L523.00,916.76 L526.00,910.65 L529.00,904.42 L532.00,897.98 L535.00,891.35 L538.00,884.61 L541.00,877.83 L544.00,871.25 L547.00,864.95 L550.00,858.79 L553.00,852.76 L556.00,847.07 L559.00,841.84 L562.00,836.70 L565.00,831.62 L568.00,826.66 L571.00,821.83 L574.00,817.16 L577.00,812.62 L580.00,808.19 L583.00,803.79 L586.00,799.41 L589.00,795.07 L592.00,790.76 L595.00,786.35 L598.00,781.87 L601.00,777.52 L604.00,773.31 L607.00,769.22 L610.00,765.24 L613.00,761.28 L616.00,757.43 L619.00,753.71 L622.00,750.14 L625.00,746.74 L628.00,743.47 L631.00,740.33 L634.00,737.31 L637.00,734.41 L640.00,731.64 L643.00,728.98 L646.00,726.44 L649.00,724.01 L652.00,721.67 L655.00,719.43 L658.00,717.26 L661.00,715.16 L664.00,713.14 L667.00,711.20 L670.00,709.34 L673.00,707.55 L676.00,705.85 L679.00,704.21 L682.00,702.64 L685.00,701.12 L688.00,699.66 L691.00,698.25 L694.00,696.90 L697.00,695.60 L700.00,694.34 L703.00,693.13 L706.00,691.97 L709.00,690.84 L712.00,689.77 L715.00,688.75 L718.00,687.79 L721.00,686.86 L724.00,685.97 L727.00,685.10 L730.00,684.22 L733.00,683.32 L736.00,682.40 L739.00,681.47 L739.00,710.96 L736.00,711.83 L733.00,712.69 L730.00,713.53 L727.00,714.36 L724.00,715.17 L721.00,716.01 L718.00,716.87 L715.00,717.78 L712.00,718.73 L709.00,719.73 L706.00,720.78 L703.00,721.88 L700.00,723.01 L697.00,724.19 L694.00,725.41 L691.00,726.67 L688.00,727.99 L685.00,729.36 L682.00,730.78 L679.00,732.25 L676.00,733.78 L673.00,735.38 L670.00,737.05 L667.00,738.80 L664.00,740.62 L661.00,742.51 L658.00,744.47 L655.00,746.50 L652.00,748.60 L649.00,750.79 L646.00,753.07 L643.00,755.45 L640.00,757.93 L637.00,760.53 L634.00,763.25 L631.00,766.08 L628.00,769.02 L625.00,772.07 L622.00,775.26 L619.00,778.61 L616.00,782.09 L613.00,785.70 L610.00,789.40 L607.00,793.32 L604.00,797.33 L601.00,801.45 L598.00,805.70 L595.00,810.07 L592.00,814.36 L589.00,818.56 L586.00,822.78 L583.00,827.03 L580.00,831.30 L577.00,835.59 L574.00,839.97 L571.00,844.49 L568.00,849.14 L565.00,853.90 L562.00,858.77 L559.00,863.69 L556.00,868.70 L553.00,874.12 L550.00,879.85 L547.00,885.69 L544.00,891.67 L541.00,897.88 L538.00,904.28 L535.00,910.65 L532.00,916.88 L529.00,922.93 L526.00,928.77 L523.00,934.50 L520.00,940.24 L517.00,946.19 L514.00,952.29 L511.00,958.25 L508.00,963.82 L505.00,968.93 L502.00,973.71 L499.00,978.23 L496.00,982.56 L493.00,986.79 L490.00,990.94 L487.00,995.00 L484.00,998.98 L481.00,1002.85 L478.00,1006.59 L475.00,1010.25 L472.00,1013.88 L469.00,1017.46 L466.00,1021.05 L463.00,1024.67 L460.00,1028.31 L457.00,1031.93 L454.00,1035.48 L451.00,1038.91 L448.00,1042.16 L445.00,1045.22 L442.00,1048.05 L439.00,1050.66 L436.00,1053.07 L433.00,1055.32 L430.00,1057.39 L427.00,1059.31 L424.00,1061.06 L421.00,1062.67 L418.00,1064.16 L415.00,1065.56 L412.00,1066.86 L409.00,1068.07 L406.00,1069.21 L403.00,1070.28 L400.00,1071.30 L397.00,1072.21 L394.00,1073.08 L391.00,1073.92 L388.00,1074.73 L385.00,1075.52 L382.00,1076.28 L379.00,1077.03 L376.00,1077.75 L373.00,1078.47 L370.00,1079.17 L367.00,1079.87 L364.00,1080.56 L361.00,1081.26 L358.00,1081.94 L355.00,1082.63 L352.00,1083.31 L349.00,1083.99 L346.00,1084.66 L343.00,1085.34 L340.00,1086.03 L337.00,1086.72 L334.00,1087.42 L331.00,1088.12 L328.00,1088.82 L325.00,1089.50 L322.00,1090.18 L319.00,1090.83 L316.00,1091.48 L313.00,1092.10 L310.00,1092.72 L307.00,1093.32 L304.00,1093.92 L301.00,1094.50 L298.00,1095.08 L295.00,1095.64 L292.00,1096.20 L289.00,1096.76 L286.00,1097.32 L283.00,1097.88 L280.00,1098.44 L277.00,1099.00 L274.00,1099.56 L271.00,1100.10 L268.00,1100.64 L265.00,1101.18 L262.00,1101.72 L259.00,1102.27 L256.00,1102.83 L253.00,1103.42 L250.00,1104.04 L247.00,1104.68 L244.00,1105.37 L241.00,1106.08 L238.00,1106.89 L235.00,1107.75 L232.00,1108.63 L229.00,1109.51 L226.00,1110.39 L223.00,1111.26 L220.00,1112.14 L217.00,1113.03 L214.00,1113.91 L211.00,1114.80 L208.00,1115.70 L205.00,1116.61 L202.00,1117.53 L199.00,1118.48 L196.00,1119.43 L193.00,1120.38 L190.00,1121.33 L187.00,1122.29 L184.00,1123.23 L181.00,1124.16 L178.00,1125.08 L175.00,1125.99 L172.00,1126.90 L169.00,1127.79 L166.00,1128.68 L163.00,1129.56 L160.00,1130.46 L157.00,1131.38 L154.00,1132.33 L151.00,1133.30 L148.00,1134.24 L145.00,1135.17 L142.00,1136.07 L139.00,1136.93 L136.00,1137.75 L133.00,1138.53 L130.00,1139.26 L127.00,1139.94 L124.00,1140.59 L121.00,1141.20 L118.00,1141.77 L115.00,1142.31 L112.00,1142.80 L109.00,1143.49 L106.00,1144.13 L103.00,1144.71 L100.00,1145.15 Z" fill="#1f77b4" fill-opacity="0.1" stroke="#1f77b4" stroke-opacity="0.1" stroke-width="1"/>
<path d="M100.00,1145.08 L104.00,1144.35 L108.00,1143.39 L112.00,1142.33 L116.00,1141.56 L120.00,1140.71 L124.00,1139.78 L128.00,1138.77 L132.00,1137.70 L136.00,1136.53 L140.00,1135.27 L144.00,1133.93 L148.00,1132.54 L152.00,1131.11 L156.00,1129.67 L160.00,1128.29 L164.00,1126.97 L168.00,1125.69 L172.00,1124.43 L176.00,1123.16 L180.00,1121.88 L184.00,1120.59 L188.00,1119.29 L192.00,1117.99 L196.00,1116.67 L200.00,1115.37 L204.00,1114.11 L208.00,1112.89 L212.00,1111.70 L216.00,1110.53 L220.00,1109.37 L224.00,1108.23 L228.00,1107.10 L232.00,1105.97 L236.00,1104.86 L240.00,1103.79 L244.00,1102.78 L248.00,1101.83 L252.00,1100.95 L256.00,1100.12 L260.00,1099.34 L264.00,1098.58 L268.00,1097.83 L272.00,1097.08 L276.00,1096.31 L280.00,1095.53 L284.00,1094.75 L288.00,1093.98 L292.00,1093.20 L296.00,1092.42 L300.00,1091.63 L304.00,1090.82 L308.00,1089.99 L312.00,1089.15 L316.00,1088.28 L320.00,1087.39 L324.00,1086.46 L328.00,1085.51 L332.00,1084.55 L336.00,1083.58 L340.00,1082.62 L344.00,1081.67 L348.00,1080.73 L352.00,1079.79 L356.00,1078.85 L360.00,1077.91 L364.00,1076.95 L368.00,1075.99 L372.00,1075.02 L376.00,1074.04 L380.00,1073.04 L384.00,1072.00 L388.00,1070.92 L392.00,1069.79 L396.00,1068.61 L400.00,1067.37 L404.00,1065.95 L408.00,1064.42 L412.00,1062.76 L416.00,1060.95 L420.00,1058.97 L424.00,1056.78 L428.00,1054.34 L432.00,1051.59 L436.00,1048.54 L440.00,1045.16 L444.00,1041.42 L448.00,1037.25 L452.00,1032.71 L456.00,1027.86 L460.00,1022.86 L464.00,1017.82 L468.00,1012.82 L472.00,1007.87 L476.00,1002.85 L480.00,997.74 L484.00,992.43 L488.00,986.91 L492.00,981.24 L496.00,975.42 L500.00,969.40 L504.00,962.99 L508.00,956.01 L512.00,948.23 L516.00,939.86 L520.00,931.61 L524.00,923.70 L528.00,915.75 L532.00,907.47 L536.00,898.87 L540.00,890.08 L544.00,881.50 L548.00,873.35 L552.00,865.42 L556.00,857.92 L560.00,851.12 L564.00,844.44 L568.00,837.93 L572.00,831.64 L576.00,825.61 L580.00,819.77 L584.00,814.00 L588.00,808.26 L592.00,802.58 L596.00,796.75 L600.00,790.92 L604.00,785.34 L608.00,779.95 L612.00,774.77 L616.00,769.77 L620.00,765.00 L624.00,760.50 L628.00,756.26 L632.00,752.23 L636.00,748.41 L640.00,744.80 L644.00,741.39 L648.00,738.19 L652.00,735.15 L656.00,732.27 L660.00,729.52 L664.00,726.89 L668.00,724.40 L672.00,722.05 L676.00,719.83 L680.00,717.73 L684.00,715.74 L688.00,713.84 L692.00,712.03 L696.00,710.32 L700.00,708.69 L704.00,707.14 L708.00,705.66 L712.00,704.27 L716.00,702.96 L720.00,701.74 L724.00,700.59 L728.00,699.46 L732.00,698.31 L736.00,697.13 L739.00,697.00 L760.00,694.00 L785.50,689.50" stroke="#1f77b4" stroke-width="2.08" fill="none"/>
<path d="M77.50,1145.60 L79.50,1145.61 L81.50,1145.61 L83.50,1145.62 L85.50,1145.64 L87.50,1145.65 L89.50,1145.66 L91.50,1145.67 L93.50,1145.67 L95.50,1145.67 L97.50,1145.66 L99.50,1145.64 L101.50,1145.60 L103.50,1145.52 L105.49,1145.40 L107.48,1145.22 L109.47,1144.98 L111.45,1144.70 L113.42,1144.39 L115.40,1144.09 L117.37,1143.77 L119.32,1143.36 L121.20,1142.75 L123.01,1141.93 L124.78,1141.01 L126.56,1140.10 L128.38,1139.27 L130.23,1138.53 L132.11,1137.83 L133.99,1137.16 L135.88,1136.51 L137.77,1135.85 L139.66,1135.19 L141.54,1134.52 L143.43,1133.85 L145.31,1133.19 L147.20,1132.53 L149.09,1131.88 L150.99,1131.25 L152.89,1130.64 L154.81,1130.05 L156.72,1129.48 L158.64,1128.92 L160.56,1128.35 L162.47,1127.75 L164.36,1127.11 L166.24,1126.42 L168.10,1125.69 L169.95,1124.93 L171.79,1124.16 L173.65,1123.40 L175.51,1122.68 L177.39,1122.00 L179.28,1121.36 L181.19,1120.75 L183.10,1120.17 L185.02,1119.62 L186.95,1119.09 L188.89,1118.58 L190.83,1118.11 L192.78,1117.67 L194.74,1117.26 L196.70,1116.86 L198.65,1116.43 L200.59,1115.94 L202.51,1115.39 L204.41,1114.77 L206.29,1114.09 L208.16,1113.38 L210.02,1112.65 L211.88,1111.91 L213.75,1111.20 L215.62,1110.49 L217.49,1109.80 L219.37,1109.11 L221.25,1108.43 L223.14,1107.77 L225.04,1107.14 L226.95,1106.55 L228.87,1106.00 L230.80,1105.49 L232.74,1105.00 L234.69,1104.54 L236.63,1104.08 L238.58,1103.61 L240.52,1103.13 L242.46,1102.64 L244.40,1102.14 L246.33,1101.64 L248.27,1101.15 L250.21,1100.68 L252.16,1100.23 L254.11,1099.79 L256.07,1099.37 L258.03,1098.97 L259.99,1098.58 L261.96,1098.21 L263.93,1097.86 L265.90,1097.53 L267.87,1097.23 L269.85,1096.94 L271.83,1096.67 L273.82,1096.41 L275.80,1096.16 L277.79,1095.92 L279.78,1095.70 L281.76,1095.49 L283.75,1095.29 L285.74,1095.07 L287.73,1094.83 L289.71,1094.54 L291.68,1094.23 L293.65,1093.88 L295.61,1093.50 L297.57,1093.10 L299.53,1092.67 L301.47,1092.20 L303.40,1091.70 L305.33,1091.16 L307.24,1090.58 L309.15,1089.99 L311.07,1089.40 L312.99,1088.84 L314.92,1088.32 L316.86,1087.84 L318.81,1087.39 L320.76,1086.96 L322.71,1086.54 L324.67,1086.11 L326.62,1085.67 L328.57,1085.22 L330.51,1084.76 L332.46,1084.28 L334.40,1083.81 L336.34,1083.34 L338.29,1082.89 L340.24,1082.45 L342.20,1082.03 L344.16,1081.63 L346.12,1081.23 L348.08,1080.83 L350.03,1080.42 L351.99,1079.99 L353.93,1079.53 L355.88,1079.06 L357.82,1078.58 L359.76,1078.09 L361.70,1077.60 L363.64,1077.12 L365.58,1076.65 L367.53,1076.20 L369.48,1075.75 L371.43,1075.30 L373.38,1074.85 L375.32,1074.40 L377.27,1073.92 L379.21,1073.44 L381.14,1072.93 L383.08,1072.43 L385.01,1071.92 L386.95,1071.41 L388.88,1070.91 L390.82,1070.42 L392.76,1069.94 L394.70,1069.46 L396.64,1068.97 L398.58,1068.47 L400.51,1067.95 L402.44,1067.43 L404.37,1066.89 L406.29,1066.34 L408.21,1065.77 L410.12,1065.17 L412.02,1064.55 L413.91,1063.90 L415.79,1063.22 L417.66,1062.53 L419.53,1061.80 L421.37,1061.03 L423.20,1060.22 L425.01,1059.37 L426.80,1058.47 L428.57,1057.55 L430.32,1056.58 L432.04,1055.57 L433.74,1054.51 L435.40,1053.39 L437.01,1052.21 L438.58,1050.98 L440.10,1049.69 L441.59,1048.35 L443.04,1046.97 L444.46,1045.57 L445.85,1044.13 L447.20,1042.65 L448.51,1041.14 L449.77,1039.59 L450.96,1037.99 L452.08,1036.34 L453.13,1034.63 L454.15,1032.91 L455.17,1031.20 L456.23,1029.50 L457.35,1027.84 L458.50,1026.21 L459.67,1024.59 L460.84,1022.96 L461.98,1021.32 L463.08,1019.65 L464.14,1017.96 L465.18,1016.25 L466.22,1014.54 L467.28,1012.85 L468.39,1011.19 L469.56,1009.56 L470.78,1007.98 L472.04,1006.43 L473.35,1004.92 L474.72,1003.46 L476.13,1002.05 L477.59,1000.69 L479.09,999.36 L480.60,998.05 L482.12,996.75 L483.64,995.45 L485.15,994.14 L486.67,992.83 L488.18,991.53 L489.69,990.21 L491.17,988.87 L492.57,987.45 L493.85,985.93 L494.99,984.30 L496.02,982.59 L496.96,980.82 L497.85,979.04 L498.72,977.23 L499.56,975.42 L500.37,973.59 L501.16,971.75 L501.94,969.91 L502.72,968.07 L503.50,966.23 L504.28,964.39 L505.06,962.55 L505.84,960.70 L506.64,958.87 L507.46,957.05 L508.33,955.25 L509.26,953.48 L510.25,951.74 L511.30,950.04 L512.40,948.37 L513.52,946.72 L514.65,945.07 L515.77,943.41 L516.87,941.74 L517.94,940.05 L518.99,938.35 L520.02,936.64 L521.04,934.91 L522.03,933.18 L522.99,931.42 L523.90,929.64 L524.74,927.83 L525.50,925.98 L526.15,924.10 L526.72,922.18 L527.23,920.25 L527.73,918.32 L528.28,916.39 L528.92,914.50 L529.67,912.65 L530.52,910.85 L531.46,909.09 L532.46,907.35 L533.48,905.63 L534.50,903.91 L535.49,902.17 L536.44,900.42 L537.34,898.63 L538.19,896.82 L539.01,895.00 L539.82,893.17 L540.62,891.34 L541.43,889.51 L542.26,887.69 L543.11,885.88 L543.97,884.07 L544.85,882.28 L545.74,880.48 L546.63,878.69 L547.52,876.90 L548.41,875.11 L549.31,873.32 L550.20,871.53 L551.08,869.74 L551.94,867.93 L552.79,866.12 L553.61,864.30 L554.42,862.47 L555.22,860.64 L556.00,858.80 L556.79,856.96 L557.58,855.12 L558.42,853.31 L559.32,851.52 L560.29,849.78 L561.34,848.08 L562.43,846.40 L563.55,844.75 L564.68,843.10 L565.81,841.45 L566.95,839.80 L568.09,838.16 L569.27,836.55 L570.52,834.99 L571.90,833.55 L573.38,832.23 L574.89,830.93 L576.31,829.55 L577.53,828.00 L578.58,826.31 L579.52,824.55 L580.44,822.77 L581.41,821.03 L582.44,819.31 L583.51,817.62 L584.61,815.95 L585.72,814.29 L586.84,812.63 L587.97,810.98 L589.09,809.33 L590.23,807.68 L591.36,806.03 L592.51,804.39 L593.64,802.75 L594.76,801.09 L595.84,799.41 L596.88,797.70 L597.90,795.98 L598.90,794.25 L599.93,792.53 L600.99,790.84 L602.10,789.18 L603.25,787.54 L604.44,785.93 L605.65,784.34 L606.87,782.76 L608.09,781.17 L609.31,779.59 L610.53,778.00 L611.74,776.41 L612.97,774.83 L614.20,773.26 L615.45,771.69 L616.71,770.14 L617.98,768.60 L619.26,767.06 L620.56,765.54 L621.86,764.02 L623.19,762.52 L624.53,761.04 L625.89,759.57 L627.27,758.13 L628.67,756.70 L630.08,755.28 L631.50,753.88 L632.94,752.48 L634.38,751.10 L635.83,749.72 L637.28,748.34 L638.73,746.97 L640.20,745.61 L641.67,744.26 L643.17,742.93 L644.69,741.63 L646.23,740.35 L647.80,739.12 L649.40,737.92 L651.02,736.75 L652.66,735.61 L654.31,734.47 L655.96,733.34 L657.62,732.22 L659.28,731.11 L660.96,730.02 L662.65,728.95 L664.35,727.91 L666.08,726.90 L667.82,725.91 L669.57,724.95 L671.33,724.00 L673.10,723.07 L674.87,722.14 L676.65,721.23 L678.43,720.31 L680.20,719.39 L681.98,718.47 L683.75,717.54 L685.53,716.62 L687.30,715.70 L689.09,714.80 L690.88,713.92 L692.69,713.06 L694.51,712.24 L696.35,711.46 L698.20,710.70 L700.07,709.98 L701.94,709.28 L703.83,708.61 L705.72,707.95 L707.61,707.31 L709.50,706.67 L711.41,706.05 L713.31,705.44 L715.22,704.84 L717.13,704.26 L719.05,703.69 L720.97,703.14 L722.90,702.59 L724.82,702.05 L726.75,701.53 L728.68,701.01 L730.62,700.50 L732.56,700.01 L734.50,699.53 L736.45,699.08 L738.40,698.66 L740.36,698.27 L742.33,697.92 L744.31,697.61 L746.29,697.32 L748.26,697.04 L750.24,696.74 L752.21,696.41 L754.17,696.02 L756.11,695.55 L758.01,694.94 L759.86,694.20 L761.65,693.32 L763.41,692.38 L765.17,691.42 L766.93,690.48 L768.71,689.56 L770.49,688.66 L772.28,687.76 L774.08,686.88 L775.88,686.01 L777.68,685.15 L779.49,684.30 L781.31,683.46 L783.12,682.61 L784.93,681.77" stroke="#ff7f0e" stroke-width="2.08" fill="none"/>
<path d="M72.42,1145.60a4.9,4.9 0 1,0 9.8,0a4.9,4.9 0 1,0 -9.8,0M74.07,1145.60a4.9,4.9 0 1,0 9.8,0a4.9,4.9 0 1,0 -9.8,0M75.71,1145.61a4.9,4.9 0 1,0 9.8,0a4.9,4.9 0 1,0 -9.8,0M77.35,1145.62a4.9,4.9 0 1,0 9.8,0a4.9,4.9 0 1,0 -9.8,0M79.00,1145.63a4.9,4.9 0 1,0 9.8,0a4.9,4.9 0 1,0 -9.8,0M80.64,1145.64a4.9,4.9 0 1,0 9.8,0a4.9,4.9 0 1,0 -9.8,0M82.29,1145.65a4.9,4.9 0 1,0 9.8,0a4.9,4.9 0 1,0 -9.8,0M83.93,1145.65a4.9,4.9 0 1,0 9.8,0a4.9,4.9 0 1,0 -9.8,0M85.57,1145.66a4.9,4.9 0 1,0 9.8,0a4.9,4.9 0 1,0 -9.8,0M87.22,1145.67a4.9,4.9 0 1,0 9.8,0a4.9,4.9 0 1,0 -9.8,0M88.86,1145.67a4.9,4.9 0 1,0 9.8,0a4.9,4.9 0 1,0 -9.8,0M90.51,1145.67a4.9,4.9 0 1,0 9.8,0a4.9,4.9 0 1,0 -9.8,0M92.15,1145.67a4.9,4.9 0 1,0 9.8,0a4.9,4.9 0 1,0 -9.8,0M93.79,1145.65a4.9,4.9 0 1,0 9.8,0a4.9,4.9 0 1,0 -9.8,0M95.44,1145.62a4.9,4.9 0 1,0 9.8,0a4.9,4.9 0 1,0 -9.8,0M97.08,1145.58a4.9,4.9 0 1,0 9.8,0a4.9,4.9 0 1,0 -9.8,0M98.72,1145.51a4.9,4.9 0 1,0 9.8,0a4.9,4.9 0 1,0 -9.8,0M100.37,1145.41a4.9,4.9 0 1,0 9.8,0a4.9,4.9 0 1,0 -9.8,0M102.01,1145.28a4.9,4.9 0 1,0 9.8,0a4.9,4.9 0 1,0 -9.8,0M103.66,1145.10a4.9,4.9 0 1,0 9.8,0a4.9,4.9 0 1,0 -9.8,0M105.30,1144.88a4.9,4.9 0 1,0 9.8,0a4.9,4.9 0 1,0 -9.8,0M106.94,1144.63a4.9,4.9 0 1,0 9.8,0a4.9,4.9 0 1,0 -9.8,0M108.59,1144.38a4.9,4.9 0 1,0 9.8,0a4.9,4.9 0 1,0 -9.8,0M110.23,1144.13a4.9,4.9 0 1,0 9.8,0a4.9,4.9 0 1,0 -9.8,0M111.87,1143.87a4.9,4.9 0 1,0 9.8,0a4.9,4.9 0 1,0 -9.8,0M113.52,1143.57a4.9,4.9 0 1,0 9.8,0a4.9,4.9 0 1,0 -9.8,0M115.16,1143.14a4.9,4.9 0 1,0 9.8,0a4.9,4.9 0 1,0 -9.8,0M116.81,1142.54a4.9,4.9 0 1,0 9.8,0a4.9,4.9 0 1,0 -9.8,0M118.45,1141.76a4.9,4.9 0 1,0 9.8,0a4.9,4.9 0 1,0 -9.8,0M120.09,1140.90a4.9,4.9 0 1,0 9.8,0a4.9,4.9 0 1,0 -9.8,0M121.74,1140.06a4.9,4.9 0 1,0 9.8,0a4.9,4.9 0 1,0 -9.8,0M123.38,1139.31a4.9,4.9 0 1,0 9.8,0a4.9,4.9 0 1,0 -9.8,0M125.03,1138.65a4.9,4.9 0 1,0 9.8,0a4.9,4.9 0 1,0 -9.8,0M126.67,1138.03a4.9,4.9 0 1,0 9.8,0a4.9,4.9 0 1,0 -9.8,0M128.31,1137.44a4.9,4.9 0 1,0 9.8,0a4.9,4.9 0 1,0 -9.8,0M129.96,1136.86a4.9,4.9 0 1,0 9.8,0a4.9,4.9 0 1,0 -9.8,0M131.60,1136.29a4.9,4.9 0 1,0 9.8,0a4.9,4.9 0 1,0 -9.8,0M133.24,1135.72a4.9,4.9 0 1,0 9.8,0a4.9,4.9 0 1,0 -9.8,0M134.89,1135.14a4.9,4.9 0 1,0 9.8,0a4.9,4.9 0 1,0 -9.8,0M136.53,1134.56a4.9,4.9 0 1,0 9.8,0a4.9,4.9 0 1,0 -9.8,0M138.18,1133.98a4.9,4.9 0 1,0 9.8,0a4.9,4.9 0 1,0 -9.8,0M139.82,1133.40a4.9,4.9 0 1,0 9.8,0a4.9,4.9 0 1,0 -9.8,0M141.46,1132.82a4.9,4.9 0 1,0 9.8,0a4.9,4.9 0 1,0 -9.8,0M143.11,1132.25a4.9,4.9 0 1,0 9.8,0a4.9,4.9 0 1,0 -9.8,0M144.75,1131.69a4.9,4.9 0 1,0 9.8,0a4.9,4.9 0 1,0 -9.8,0M146.39,1131.15a4.9,4.9 0 1,0 9.8,0a4.9,4.9 0 1,0 -9.8,0M148.04,1130.62a4.9,4.9 0 1,0 9.8,0a4.9,4.9 0 1,0 -9.8,0M149.68,1130.12a4.9,4.9 0 1,0 9.8,0a4.9,4.9 0 1,0 -9.8,0M151.33,1129.63a4.9,4.9 0 1,0 9.8,0a4.9,4.9 0 1,0 -9.8,0M152.97,1129.15a4.9,4.9 0 1,0 9.8,0a4.9,4.9 0 1,0 -9.8,0M154.61,1128.66a4.9,4.9 0 1,0 9.8,0a4.9,4.9 0 1,0 -9.8,0M156.26,1128.16a4.9,4.9 0 1,0 9.8,0a4.9,4.9 0 1,0 -9.8,0M157.90,1127.64a4.9,4.9 0 1,0 9.8,0a4.9,4.9 0 1,0 -9.8,0M159.54,1127.08a4.9,4.9 0 1,0 9.8,0a4.9,4.9 0 1,0 -9.8,0M161.19,1126.48a4.9,4.9 0 1,0 9.8,0a4.9,4.9 0 1,0 -9.8,0M162.83,1125.84a4.9,4.9 0 1,0 9.8,0a4.9,4.9 0 1,0 -9.8,0M164.48,1125.17a4.9,4.9 0 1,0 9.8,0a4.9,4.9 0 1,0 -9.8,0M166.12,1124.48a4.9,4.9 0 1,0 9.8,0a4.9,4.9 0 1,0 -9.8,0M167.76,1123.80a4.9,4.9 0 1,0 9.8,0a4.9,4.9 0 1,0 -9.8,0M169.41,1123.14a4.9,4.9 0 1,0 9.8,0a4.9,4.9 0 1,0 -9.8,0M171.05,1122.52a4.9,4.9 0 1,0 9.8,0a4.9,4.9 0 1,0 -9.8,0M172.70,1121.92a4.9,4.9 0 1,0 9.8,0a4.9,4.9 0 1,0 -9.8,0M174.34,1121.37a4.9,4.9 0 1,0 9.8,0a4.9,4.9 0 1,0 -9.8,0M175.98,1120.85a4.9,4.9 0 1,0 9.8,0a4.9,4.9 0 1,0 -9.8,0M177.63,1120.34a4.9,4.9 0 1,0 9.8,0a4.9,4.9 0 1,0 -9.8,0M179.27,1119.86a4.9,4.9 0 1,0 9.8,0a4.9,4.9 0 1,0 -9.8,0M180.91,1119.40a4.9,4.9 0 1,0 9.8,0a4.9,4.9 0 1,0 -9.8,0M182.56,1118.95a4.9,4.9 0 1,0 9.8,0a4.9,4.9 0 1,0 -9.8,0M184.20,1118.53a4.9,4.9 0 1,0 9.8,0a4.9,4.9 0 1,0 -9.8,0M185.85,1118.13a4.9,4.9 0 1,0 9.8,0a4.9,4.9 0 1,0 -9.8,0M187.49,1117.76a4.9,4.9 0 1,0 9.8,0a4.9,4.9 0 1,0 -9.8,0M189.13,1117.41a4.9,4.9 0 1,0 9.8,0a4.9,4.9 0 1,0 -9.8,0M190.78,1117.07a4.9,4.9 0 1,0 9.8,0a4.9,4.9 0 1,0 -9.8,0M192.42,1116.72a4.9,4.9 0 1,0 9.8,0a4.9,4.9 0 1,0 -9.8,0M194.06,1116.35a4.9,4.9 0 1,0 9.8,0a4.9,4.9 0 1,0 -9.8,0M195.71,1115.94a4.9,4.9 0 1,0 9.8,0a4.9,4.9 0 1,0 -9.8,0M197.35,1115.47a4.9,4.9 0 1,0 9.8,0a4.9,4.9 0 1,0 -9.8,0M199.00,1114.94a4.9,4.9 0 1,0 9.8,0a4.9,4.9 0 1,0 -9.8,0M200.64,1114.37a4.9,4.9 0 1,0 9.8,0a4.9,4.9 0 1,0 -9.8,0M202.28,1113.76a4.9,4.9 0 1,0 9.8,0a4.9,4.9 0 1,0 -9.8,0M203.93,1113.12a4.9,4.9 0 1,0 9.8,0a4.9,4.9 0 1,0 -9.8,0M205.57,1112.47a4.9,4.9 0 1,0 9.8,0a4.9,4.9 0 1,0 -9.8,0M207.22,1111.82a4.9,4.9 0 1,0 9.8,0a4.9,4.9 0 1,0 -9.8,0M208.86,1111.19a4.9,4.9 0 1,0 9.8,0a4.9,4.9 0 1,0 -9.8,0M210.50,1110.57a4.9,4.9 0 1,0 9.8,0a4.9,4.9 0 1,0 -9.8,0M212.15,1109.96a4.9,4.9 0 1,0 9.8,0a4.9,4.9 0 1,0 -9.8,0M213.79,1109.36a4.9,4.9 0 1,0 9.8,0a4.9,4.9 0 1,0 -9.8,0M215.43,1108.76a4.9,4.9 0 1,0 9.8,0a4.9,4.9 0 1,0 -9.8,0M217.08,1108.17a4.9,4.9 0 1,0 9.8,0a4.9,4.9 0 1,0 -9.8,0M218.72,1107.61a4.9,4.9 0 1,0 9.8,0a4.9,4.9 0 1,0 -9.8,0M220.37,1107.07a4.9,4.9 0 1,0 9.8,0a4.9,4.9 0 1,0 -9.8,0M222.01,1106.56a4.9,4.9 0 1,0 9.8,0a4.9,4.9 0 1,0 -9.8,0M223.65,1106.08a4.9,4.9 0 1,0 9.8,0a4.9,4.9 0 1,0 -9.8,0M225.30,1105.64a4.9,4.9 0 1,0 9.8,0a4.9,4.9 0 1,0 -9.8,0M226.94,1105.22a4.9,4.9 0 1,0 9.8,0a4.9,4.9 0 1,0 -9.8,0M228.58,1104.83a4.9,4.9 0 1,0 9.8,0a4.9,4.9 0 1,0 -9.8,0M230.23,1104.44a4.9,4.9 0 1,0 9.8,0a4.9,4.9 0 1,0 -9.8,0M231.87,1104.05a4.9,4.9 0 1,0 9.8,0a4.9,4.9 0 1,0 -9.8,0M233.52,1103.65a4.9,4.9 0 1,0 9.8,0a4.9,4.9 0 1,0 -9.8,0M235.16,1103.25a4.9,4.9 0 1,0 9.8,0a4.9,4.9 0 1,0 -9.8,0M236.80,1102.83a4.9,4.9 0 1,0 9.8,0a4.9,4.9 0 1,0 -9.8,0M238.45,1102.41a4.9,4.9 0 1,0 9.8,0a4.9,4.9 0 1,0 -9.8,0M240.09,1101.99a4.9,4.9 0 1,0 9.8,0a4.9,4.9 0 1,0 -9.8,0M241.73,1101.57a4.9,4.9 0 1,0 9.8,0a4.9,4.9 0 1,0 -9.8,0M243.38,1101.15a4.9,4.9 0 1,0 9.8,0a4.9,4.9 0 1,0 -9.8,0M245.02,1100.75a4.9,4.9 0 1,0 9.8,0a4.9,4.9 0 1,0 -9.8,0M246.67,1100.36a4.9,4.9 0 1,0 9.8,0a4.9,4.9 0 1,0 -9.8,0M248.31,1099.99a4.9,4.9 0 1,0 9.8,0a4.9,4.9 0 1,0 -9.8,0M249.95,1099.63a4.9,4.9 0 1,0 9.8,0a4.9,4.9 0 1,0 -9.8,0M251.60,1099.28a4.9,4.9 0 1,0 9.8,0a4.9,4.9 0 1,0 -9.8,0M253.24,1098.94a4.9,4.9 0 1,0 9.8,0a4.9,4.9 0 1,0 -9.8,0M254.89,1098.62a4.9,4.9 0 1,0 9.8,0a4.9,4.9 0 1,0 -9.8,0M256.53,1098.31a4.9,4.9 0 1,0 9.8,0a4.9,4.9 0 1,0 -9.8,0M258.17,1098.01a4.9,4.9 0 1,0 9.8,0a4.9,4.9 0 1,0 -9.8,0M259.82,1097.73a4.9,4.9 0 1,0 9.8,0a4.9,4.9 0 1,0 -9.8,0M261.46,1097.46a4.9,4.9 0 1,0 9.8,0a4.9,4.9 0 1,0 -9.8,0M263.10,1097.21a4.9,4.9 0 1,0 9.8,0a4.9,4.9 0 1,0 -9.8,0M264.75,1096.97a4.9,4.9 0 1,0 9.8,0a4.9,4.9 0 1,0 -9.8,0M266.39,1096.74a4.9,4.9 0 1,0 9.8,0a4.9,4.9 0 1,0 -9.8,0M268.04,1096.52a4.9,4.9 0 1,0 9.8,0a4.9,4.9 0 1,0 -9.8,0M269.68,1096.31a4.9,4.9 0 1,0 9.8,0a4.9,4.9 0 1,0 -9.8,0M271.32,1096.10a4.9,4.9 0 1,0 9.8,0a4.9,4.9 0 1,0 -9.8,0M272.97,1095.91a4.9,4.9 0 1,0 9.8,0a4.9,4.9 0 1,0 -9.8,0M274.61,1095.73a4.9,4.9 0 1,0 9.8,0a4.9,4.9 0 1,0 -9.8,0M276.25,1095.55a4.9,4.9 0 1,0 9.8,0a4.9,4.9 0 1,0 -9.8,0M277.90,1095.39a4.9,4.9 0 1,0 9.8,0a4.9,4.9 0 1,0 -9.8,0M279.54,1095.22a4.9,4.9 0 1,0 9.8,0a4.9,4.9 0 1,0 -9.8,0M281.19,1095.03a4.9,4.9 0 1,0 9.8,0a4.9,4.9 0 1,0 -9.8,0M282.83,1094.83a4.9,4.9 0 1,0 9.8,0a4.9,4.9 0 1,0 -9.8,0M284.47,1094.59a4.9,4.9 0 1,0 9.8,0a4.9,4.9 0 1,0 -9.8,0M286.12,1094.34a4.9,4.9 0 1,0 9.8,0a4.9,4.9 0 1,0 -9.8,0M287.76,1094.06a4.9,4.9 0 1,0 9.8,0a4.9,4.9 0 1,0 -9.8,0M289.41,1093.76a4.9,4.9 0 1,0 9.8,0a4.9,4.9 0 1,0 -9.8,0M291.05,1093.44a4.9,4.9 0 1,0 9.8,0a4.9,4.9 0 1,0 -9.8,0M292.69,1093.10a4.9,4.9 0 1,0 9.8,0a4.9,4.9 0 1,0 -9.8,0M294.34,1092.73a4.9,4.9 0 1,0 9.8,0a4.9,4.9 0 1,0 -9.8,0M295.98,1092.35a4.9,4.9 0 1,0 9.8,0a4.9,4.9 0 1,0 -9.8,0M297.62,1091.93a4.9,4.9 0 1,0 9.8,0a4.9,4.9 0 1,0 -9.8,0M299.27,1091.49a4.9,4.9 0 1,0 9.8,0a4.9,4.9 0 1,0 -9.8,0M300.91,1091.01a4.9,4.9 0 1,0 9.8,0a4.9,4.9 0 1,0 -9.8,0M302.56,1090.51a4.9,4.9 0 1,0 9.8,0a4.9,4.9 0 1,0 -9.8,0M304.20,1090.00a4.9,4.9 0 1,0 9.8,0a4.9,4.9 0 1,0 -9.8,0M305.84,1089.50a4.9,4.9 0 1,0 9.8,0a4.9,4.9 0 1,0 -9.8,0M307.49,1089.01a4.9,4.9 0 1,0 9.8,0a4.9,4.9 0 1,0 -9.8,0M309.13,1088.56a4.9,4.9 0 1,0 9.8,0a4.9,4.9 0 1,0 -9.8,0M310.77,1088.13a4.9,4.9 0 1,0 9.8,0a4.9,4.9 0 1,0 -9.8,0M312.42,1087.73a4.9,4.9 0 1,0 9.8,0a4.9,4.9 0 1,0 -9.8,0M314.06,1087.36a4.9,4.9 0 1,0 9.8,0a4.9,4.9 0 1,0 -9.8,0M315.71,1086.99a4.9,4.9 0 1,0 9.8,0a4.9,4.9 0 1,0 -9.8,0M317.35,1086.64a4.9,4.9 0 1,0 9.8,0a4.9,4.9 0 1,0 -9.8,0M318.99,1086.28a4.9,4.9 0 1,0 9.8,0a4.9,4.9 0 1,0 -9.8,0M320.64,1085.92a4.9,4.9 0 1,0 9.8,0a4.9,4.9 0 1,0 -9.8,0M322.28,1085.55a4.9,4.9 0 1,0 9.8,0a4.9,4.9 0 1,0 -9.8,0M323.92,1085.16a4.9,4.9 0 1,0 9.8,0a4.9,4.9 0 1,0 -9.8,0M325.57,1084.77a4.9,4.9 0 1,0 9.8,0a4.9,4.9 0 1,0 -9.8,0M327.21,1084.37a4.9,4.9 0 1,0 9.8,0a4.9,4.9 0 1,0 -9.8,0M328.86,1083.97a4.9,4.9 0 1,0 9.8,0a4.9,4.9 0 1,0 -9.8,0M330.50,1083.57a4.9,4.9 0 1,0 9.8,0a4.9,4.9 0 1,0 -9.8,0M332.14,1083.18a4.9,4.9 0 1,0 9.8,0a4.9,4.9 0 1,0 -9.8,0M333.79,1082.80a4.9,4.9 0 1,0 9.8,0a4.9,4.9 0 1,0 -9.8,0M335.43,1082.43a4.9,4.9 0 1,0 9.8,0a4.9,4.9 0 1,0 -9.8,0M337.08,1082.08a4.9,4.9 0 1,0 9.8,0a4.9,4.9 0 1,0 -9.8,0M338.72,1081.74a4.9,4.9 0 1,0 9.8,0a4.9,4.9 0 1,0 -9.8,0M340.36,1081.40a4.9,4.9 0 1,0 9.8,0a4.9,4.9 0 1,0 -9.8,0M342.01,1081.07a4.9,4.9 0 1,0 9.8,0a4.9,4.9 0 1,0 -9.8,0M343.65,1080.73a4.9,4.9 0 1,0 9.8,0a4.9,4.9 0 1,0 -9.8,0M345.29,1080.38a4.9,4.9 0 1,0 9.8,0a4.9,4.9 0 1,0 -9.8,0M346.94,1080.02a4.9,4.9 0 1,0 9.8,0a4.9,4.9 0 1,0 -9.8,0M348.58,1079.64a4.9,4.9 0 1,0 9.8,0a4.9,4.9 0 1,0 -9.8,0M350.23,1079.25a4.9,4.9 0 1,0 9.8,0a4.9,4.9 0 1,0 -9.8,0M351.87,1078.84a4.9,4.9 0 1,0 9.8,0a4.9,4.9 0 1,0 -9.8,0M353.51,1078.43a4.9,4.9 0 1,0 9.8,0a4.9,4.9 0 1,0 -9.8,0M355.16,1078.01a4.9,4.9 0 1,0 9.8,0a4.9,4.9 0 1,0 -9.8,0M356.80,1077.60a4.9,4.9 0 1,0 9.8,0a4.9,4.9 0 1,0 -9.8,0M358.44,1077.19a4.9,4.9 0 1,0 9.8,0a4.9,4.9 0 1,0 -9.8,0M360.09,1076.79a4.9,4.9 0 1,0 9.8,0a4.9,4.9 0 1,0 -9.8,0M361.73,1076.40a4.9,4.9 0 1,0 9.8,0a4.9,4.9 0 1,0 -9.8,0M363.38,1076.02a4.9,4.9 0 1,0 9.8,0a4.9,4.9 0 1,0 -9.8,0M365.02,1075.65a4.9,4.9 0 1,0 9.8,0a4.9,4.9 0 1,0 -9.8,0M366.66,1075.27a4.9,4.9 0 1,0 9.8,0a4.9,4.9 0 1,0 -9.8,0M368.31,1074.89a4.9,4.9 0 1,0 9.8,0a4.9,4.9 0 1,0 -9.8,0M369.95,1074.51a4.9,4.9 0 1,0 9.8,0a4.9,4.9 0 1,0 -9.8,0M371.60,1074.11a4.9,4.9 0 1,0 9.8,0a4.9,4.9 0 1,0 -9.8,0M373.24,1073.71a4.9,4.9 0 1,0 9.8,0a4.9,4.9 0 1,0 -9.8,0M374.88,1073.29a4.9,4.9 0 1,0 9.8,0a4.9,4.9 0 1,0 -9.8,0M376.53,1072.86a4.9,4.9 0 1,0 9.8,0a4.9,4.9 0 1,0 -9.8,0M378.17,1072.43a4.9,4.9 0 1,0 9.8,0a4.9,4.9 0 1,0 -9.8,0M379.81,1071.99a4.9,4.9 0 1,0 9.8,0a4.9,4.9 0 1,0 -9.8,0M381.46,1071.56a4.9,4.9 0 1,0 9.8,0a4.9,4.9 0 1,0 -9.8,0M383.10,1071.14a4.9,4.9 0 1,0 9.8,0a4.9,4.9 0 1,0 -9.8,0M384.75,1070.72a4.9,4.9 0 1,0 9.8,0a4.9,4.9 0 1,0 -9.8,0M386.39,1070.31a4.9,4.9 0 1,0 9.8,0a4.9,4.9 0 1,0 -9.8,0M388.03,1069.90a4.9,4.9 0 1,0 9.8,0a4.9,4.9 0 1,0 -9.8,0M389.68,1069.49a4.9,4.9 0 1,0 9.8,0a4.9,4.9 0 1,0 -9.8,0M391.32,1069.08a4.9,4.9 0 1,0 9.8,0a4.9,4.9 0 1,0 -9.8,0M392.96,1068.66a4.9,4.9 0 1,0 9.8,0a4.9,4.9 0 1,0 -9.8,0M394.61,1068.22a4.9,4.9 0 1,0 9.8,0a4.9,4.9 0 1,0 -9.8,0M396.25,1067.78a4.9,4.9 0 1,0 9.8,0a4.9,4.9 0 1,0 -9.8,0M397.90,1067.33a4.9,4.9 0 1,0 9.8,0a4.9,4.9 0 1,0 -9.8,0M399.54,1066.87a4.9,4.9 0 1,0 9.8,0a4.9,4.9 0 1,0 -9.8,0M401.18,1066.40a4.9,4.9 0 1,0 9.8,0a4.9,4.9 0 1,0 -9.8,0M402.83,1065.91a4.9,4.9 0 1,0 9.8,0a4.9,4.9 0 1,0 -9.8,0M404.47,1065.41a4.9,4.9 0 1,0 9.8,0a4.9,4.9 0 1,0 -9.8,0M406.11,1064.88a4.9,4.9 0 1,0 9.8,0a4.9,4.9 0 1,0 -9.8,0M407.76,1064.33a4.9,4.9 0 1,0 9.8,0a4.9,4.9 0 1,0 -9.8,0M409.40,1063.76a4.9,4.9 0 1,0 9.8,0a4.9,4.9 0 1,0 -9.8,0M411.05,1063.17a4.9,4.9 0 1,0 9.8,0a4.9,4.9 0 1,0 -9.8,0M412.69,1062.55a4.9,4.9 0 1,0 9.8,0a4.9,4.9 0 1,0 -9.8,0M414.33,1061.91a4.9,4.9 0 1,0 9.8,0a4.9,4.9 0 1,0 -9.8,0M415.98,1061.24a4.9,4.9 0 1,0 9.8,0a4.9,4.9 0 1,0 -9.8,0M417.62,1060.53a4.9,4.9 0 1,0 9.8,0a4.9,4.9 0 1,0 -9.8,0M419.27,1059.77a4.9,4.9 0 1,0 9.8,0a4.9,4.9 0 1,0 -9.8,0M420.91,1058.97a4.9,4.9 0 1,0 9.8,0a4.9,4.9 0 1,0 -9.8,0M422.55,1058.13a4.9,4.9 0 1,0 9.8,0a4.9,4.9 0 1,0 -9.8,0M424.20,1057.26a4.9,4.9 0 1,0 9.8,0a4.9,4.9 0 1,0 -9.8,0M425.84,1056.34a4.9,4.9 0 1,0 9.8,0a4.9,4.9 0 1,0 -9.8,0M427.48,1055.36a4.9,4.9 0 1,0 9.8,0a4.9,4.9 0 1,0 -9.8,0M429.13,1054.32a4.9,4.9 0 1,0 9.8,0a4.9,4.9 0 1,0 -9.8,0M430.77,1053.20a4.9,4.9 0 1,0 9.8,0a4.9,4.9 0 1,0 -9.8,0M432.42,1051.98a4.9,4.9 0 1,0 9.8,0a4.9,4.9 0 1,0 -9.8,0M434.06,1050.66a4.9,4.9 0 1,0 9.8,0a4.9,4.9 0 1,0 -9.8,0M435.70,1049.24a4.9,4.9 0 1,0 9.8,0a4.9,4.9 0 1,0 -9.8,0M437.35,1047.74a4.9,4.9 0 1,0 9.8,0a4.9,4.9 0 1,0 -9.8,0M438.99,1046.14a4.9,4.9 0 1,0 9.8,0a4.9,4.9 0 1,0 -9.8,0M440.63,1044.45a4.9,4.9 0 1,0 9.8,0a4.9,4.9 0 1,0 -9.8,0M442.28,1042.67a4.9,4.9 0 1,0 9.8,0a4.9,4.9 0 1,0 -9.8,0M443.92,1040.77a4.9,4.9 0 1,0 9.8,0a4.9,4.9 0 1,0 -9.8,0M445.57,1038.68a4.9,4.9 0 1,0 9.8,0a4.9,4.9 0 1,0 -9.8,0M447.21,1036.29a4.9,4.9 0 1,0 9.8,0a4.9,4.9 0 1,0 -9.8,0M448.85,1033.58a4.9,4.9 0 1,0 9.8,0a4.9,4.9 0 1,0 -9.8,0M450.50,1030.83a4.9,4.9 0 1,0 9.8,0a4.9,4.9 0 1,0 -9.8,0M452.14,1028.30a4.9,4.9 0 1,0 9.8,0a4.9,4.9 0 1,0 -9.8,0M453.79,1025.96a4.9,4.9 0 1,0 9.8,0a4.9,4.9 0 1,0 -9.8,0M455.43,1023.67a4.9,4.9 0 1,0 9.8,0a4.9,4.9 0 1,0 -9.8,0M457.07,1021.32a4.9,4.9 0 1,0 9.8,0a4.9,4.9 0 1,0 -9.8,0M458.72,1018.80a4.9,4.9 0 1,0 9.8,0a4.9,4.9 0 1,0 -9.8,0M460.36,1016.12a4.9,4.9 0 1,0 9.8,0a4.9,4.9 0 1,0 -9.8,0M462.00,1013.44a4.9,4.9 0 1,0 9.8,0a4.9,4.9 0 1,0 -9.8,0M463.65,1010.97a4.9,4.9 0 1,0 9.8,0a4.9,4.9 0 1,0 -9.8,0M465.29,1008.73a4.9,4.9 0 1,0 9.8,0a4.9,4.9 0 1,0 -9.8,0M466.94,1006.68a4.9,4.9 0 1,0 9.8,0a4.9,4.9 0 1,0 -9.8,0M468.58,1004.79a4.9,4.9 0 1,0 9.8,0a4.9,4.9 0 1,0 -9.8,0M470.22,1003.04a4.9,4.9 0 1,0 9.8,0a4.9,4.9 0 1,0 -9.8,0M471.87,1001.45a4.9,4.9 0 1,0 9.8,0a4.9,4.9 0 1,0 -9.8,0M473.51,999.96a4.9,4.9 0 1,0 9.8,0a4.9,4.9 0 1,0 -9.8,0M475.15,998.53a4.9,4.9 0 1,0 9.8,0a4.9,4.9 0 1,0 -9.8,0M476.80,997.11a4.9,4.9 0 1,0 9.8,0a4.9,4.9 0 1,0 -9.8,0M478.44,995.70a4.9,4.9 0 1,0 9.8,0a4.9,4.9 0 1,0 -9.8,0M480.09,994.28a4.9,4.9 0 1,0 9.8,0a4.9,4.9 0 1,0 -9.8,0M481.73,992.86a4.9,4.9 0 1,0 9.8,0a4.9,4.9 0 1,0 -9.8,0M483.37,991.44a4.9,4.9 0 1,0 9.8,0a4.9,4.9 0 1,0 -9.8,0M485.02,990.01a4.9,4.9 0 1,0 9.8,0a4.9,4.9 0 1,0 -9.8,0M486.66,988.49a4.9,4.9 0 1,0 9.8,0a4.9,4.9 0 1,0 -9.8,0M488.30,986.73a4.9,4.9 0 1,0 9.8,0a4.9,4.9 0 1,0 -9.8,0M489.95,984.52a4.9,4.9 0 1,0 9.8,0a4.9,4.9 0 1,0 -9.8,0M491.59,981.71a4.9,4.9 0 1,0 9.8,0a4.9,4.9 0 1,0 -9.8,0M493.24,978.45a4.9,4.9 0 1,0 9.8,0a4.9,4.9 0 1,0 -9.8,0M494.88,974.92a4.9,4.9 0 1,0 9.8,0a4.9,4.9 0 1,0 -9.8,0M496.52,971.12a4.9,4.9 0 1,0 9.8,0a4.9,4.9 0 1,0 -9.8,0M498.17,967.24a4.9,4.9 0 1,0 9.8,0a4.9,4.9 0 1,0 -9.8,0M499.81,963.37a4.9,4.9 0 1,0 9.8,0a4.9,4.9 0 1,0 -9.8,0M501.46,959.51a4.9,4.9 0 1,0 9.8,0a4.9,4.9 0 1,0 -9.8,0M503.10,955.93a4.9,4.9 0 1,0 9.8,0a4.9,4.9 0 1,0 -9.8,0M504.74,952.80a4.9,4.9 0 1,0 9.8,0a4.9,4.9 0 1,0 -9.8,0M506.39,950.07a4.9,4.9 0 1,0 9.8,0a4.9,4.9 0 1,0 -9.8,0M508.03,947.58a4.9,4.9 0 1,0 9.8,0a4.9,4.9 0 1,0 -9.8,0M509.67,945.18a4.9,4.9 0 1,0 9.8,0a4.9,4.9 0 1,0 -9.8,0M511.32,942.74a4.9,4.9 0 1,0 9.8,0a4.9,4.9 0 1,0 -9.8,0M512.96,940.18a4.9,4.9 0 1,0 9.8,0a4.9,4.9 0 1,0 -9.8,0M514.61,937.50a4.9,4.9 0 1,0 9.8,0a4.9,4.9 0 1,0 -9.8,0M516.25,934.71a4.9,4.9 0 1,0 9.8,0a4.9,4.9 0 1,0 -9.8,0M517.89,931.78a4.9,4.9 0 1,0 9.8,0a4.9,4.9 0 1,0 -9.8,0M519.54,928.51a4.9,4.9 0 1,0 9.8,0a4.9,4.9 0 1,0 -9.8,0M521.18,924.32a4.9,4.9 0 1,0 9.8,0a4.9,4.9 0 1,0 -9.8,0M522.82,918.35a4.9,4.9 0 1,0 9.8,0a4.9,4.9 0 1,0 -9.8,0M524.47,913.37a4.9,4.9 0 1,0 9.8,0a4.9,4.9 0 1,0 -9.8,0M526.11,909.92a4.9,4.9 0 1,0 9.8,0a4.9,4.9 0 1,0 -9.8,0M527.76,907.02a4.9,4.9 0 1,0 9.8,0a4.9,4.9 0 1,0 -9.8,0M529.40,904.24a4.9,4.9 0 1,0 9.8,0a4.9,4.9 0 1,0 -9.8,0M531.04,901.35a4.9,4.9 0 1,0 9.8,0a4.9,4.9 0 1,0 -9.8,0M532.69,898.11a4.9,4.9 0 1,0 9.8,0a4.9,4.9 0 1,0 -9.8,0M534.33,894.51a4.9,4.9 0 1,0 9.8,0a4.9,4.9 0 1,0 -9.8,0M535.98,890.76a4.9,4.9 0 1,0 9.8,0a4.9,4.9 0 1,0 -9.8,0M537.62,887.13a4.9,4.9 0 1,0 9.8,0a4.9,4.9 0 1,0 -9.8,0M539.26,883.68a4.9,4.9 0 1,0 9.8,0a4.9,4.9 0 1,0 -9.8,0M540.91,880.34a4.9,4.9 0 1,0 9.8,0a4.9,4.9 0 1,0 -9.8,0M542.55,877.04a4.9,4.9 0 1,0 9.8,0a4.9,4.9 0 1,0 -9.8,0M544.19,873.75a4.9,4.9 0 1,0 9.8,0a4.9,4.9 0 1,0 -9.8,0M545.84,870.43a4.9,4.9 0 1,0 9.8,0a4.9,4.9 0 1,0 -9.8,0M547.48,867.00a4.9,4.9 0 1,0 9.8,0a4.9,4.9 0 1,0 -9.8,0M549.13,863.37a4.9,4.9 0 1,0 9.8,0a4.9,4.9 0 1,0 -9.8,0M550.77,859.58a4.9,4.9 0 1,0 9.8,0a4.9,4.9 0 1,0 -9.8,0M552.41,855.74a4.9,4.9 0 1,0 9.8,0a4.9,4.9 0 1,0 -9.8,0M554.06,852.22a4.9,4.9 0 1,0 9.8,0a4.9,4.9 0 1,0 -9.8,0M555.70,849.27a4.9,4.9 0 1,0 9.8,0a4.9,4.9 0 1,0 -9.8,0M557.34,846.68a4.9,4.9 0 1,0 9.8,0a4.9,4.9 0 1,0 -9.8,0M558.99,844.25a4.9,4.9 0 1,0 9.8,0a4.9,4.9 0 1,0 -9.8,0M560.63,841.86a4.9,4.9 0 1,0 9.8,0a4.9,4.9 0 1,0 -9.8,0M562.28,839.46a4.9,4.9 0 1,0 9.8,0a4.9,4.9 0 1,0 -9.8,0M563.92,837.15a4.9,4.9 0 1,0 9.8,0a4.9,4.9 0 1,0 -9.8,0M565.56,835.07a4.9,4.9 0 1,0 9.8,0a4.9,4.9 0 1,0 -9.8,0M567.21,833.36a4.9,4.9 0 1,0 9.8,0a4.9,4.9 0 1,0 -9.8,0M568.85,831.91a4.9,4.9 0 1,0 9.8,0a4.9,4.9 0 1,0 -9.8,0M570.50,830.47a4.9,4.9 0 1,0 9.8,0a4.9,4.9 0 1,0 -9.8,0M572.14,828.67a4.9,4.9 0 1,0 9.8,0a4.9,4.9 0 1,0 -9.8,0M573.78,826.11a4.9,4.9 0 1,0 9.8,0a4.9,4.9 0 1,0 -9.8,0M575.43,823.00a4.9,4.9 0 1,0 9.8,0a4.9,4.9 0 1,0 -9.8,0M577.07,820.08a4.9,4.9 0 1,0 9.8,0a4.9,4.9 0 1,0 -9.8,0M578.71,817.46a4.9,4.9 0 1,0 9.8,0a4.9,4.9 0 1,0 -9.8,0M580.36,814.98a4.9,4.9 0 1,0 9.8,0a4.9,4.9 0 1,0 -9.8,0M582.00,812.54a4.9,4.9 0 1,0 9.8,0a4.9,4.9 0 1,0 -9.8,0M583.65,810.13a4.9,4.9 0 1,0 9.8,0a4.9,4.9 0 1,0 -9.8,0M585.29,807.73a4.9,4.9 0 1,0 9.8,0a4.9,4.9 0 1,0 -9.8,0M586.93,805.36a4.9,4.9 0 1,0 9.8,0a4.9,4.9 0 1,0 -9.8,0M588.58,802.99a4.9,4.9 0 1,0 9.8,0a4.9,4.9 0 1,0 -9.8,0M590.22,800.53a4.9,4.9 0 1,0 9.8,0a4.9,4.9 0 1,0 -9.8,0M591.86,797.89a4.9,4.9 0 1,0 9.8,0a4.9,4.9 0 1,0 -9.8,0M593.51,795.10a4.9,4.9 0 1,0 9.8,0a4.9,4.9 0 1,0 -9.8,0M595.15,792.34a4.9,4.9 0 1,0 9.8,0a4.9,4.9 0 1,0 -9.8,0M596.80,789.78a4.9,4.9 0 1,0 9.8,0a4.9,4.9 0 1,0 -9.8,0M598.44,787.43a4.9,4.9 0 1,0 9.8,0a4.9,4.9 0 1,0 -9.8,0M600.08,785.22a4.9,4.9 0 1,0 9.8,0a4.9,4.9 0 1,0 -9.8,0M601.73,783.07a4.9,4.9 0 1,0 9.8,0a4.9,4.9 0 1,0 -9.8,0M603.37,780.94a4.9,4.9 0 1,0 9.8,0a4.9,4.9 0 1,0 -9.8,0M605.01,778.80a4.9,4.9 0 1,0 9.8,0a4.9,4.9 0 1,0 -9.8,0M606.66,776.65a4.9,4.9 0 1,0 9.8,0a4.9,4.9 0 1,0 -9.8,0M608.30,774.53a4.9,4.9 0 1,0 9.8,0a4.9,4.9 0 1,0 -9.8,0M609.95,772.45a4.9,4.9 0 1,0 9.8,0a4.9,4.9 0 1,0 -9.8,0M611.59,770.41a4.9,4.9 0 1,0 9.8,0a4.9,4.9 0 1,0 -9.8,0M613.23,768.42a4.9,4.9 0 1,0 9.8,0a4.9,4.9 0 1,0 -9.8,0M614.88,766.45a4.9,4.9 0 1,0 9.8,0a4.9,4.9 0 1,0 -9.8,0M616.52,764.53a4.9,4.9 0 1,0 9.8,0a4.9,4.9 0 1,0 -9.8,0M618.17,762.66a4.9,4.9 0 1,0 9.8,0a4.9,4.9 0 1,0 -9.8,0M619.81,760.84a4.9,4.9 0 1,0 9.8,0a4.9,4.9 0 1,0 -9.8,0M621.45,759.08a4.9,4.9 0 1,0 9.8,0a4.9,4.9 0 1,0 -9.8,0M623.10,757.38a4.9,4.9 0 1,0 9.8,0a4.9,4.9 0 1,0 -9.8,0M624.74,755.72a4.9,4.9 0 1,0 9.8,0a4.9,4.9 0 1,0 -9.8,0M626.38,754.09a4.9,4.9 0 1,0 9.8,0a4.9,4.9 0 1,0 -9.8,0M628.03,752.49a4.9,4.9 0 1,0 9.8,0a4.9,4.9 0 1,0 -9.8,0M629.67,750.91a4.9,4.9 0 1,0 9.8,0a4.9,4.9 0 1,0 -9.8,0M631.32,749.35a4.9,4.9 0 1,0 9.8,0a4.9,4.9 0 1,0 -9.8,0M632.96,747.79a4.9,4.9 0 1,0 9.8,0a4.9,4.9 0 1,0 -9.8,0M634.60,746.25a4.9,4.9 0 1,0 9.8,0a4.9,4.9 0 1,0 -9.8,0M636.25,744.74a4.9,4.9 0 1,0 9.8,0a4.9,4.9 0 1,0 -9.8,0M637.89,743.26a4.9,4.9 0 1,0 9.8,0a4.9,4.9 0 1,0 -9.8,0M639.53,741.84a4.9,4.9 0 1,0 9.8,0a4.9,4.9 0 1,0 -9.8,0M641.18,740.48a4.9,4.9 0 1,0 9.8,0a4.9,4.9 0 1,0 -9.8,0M642.82,739.18a4.9,4.9 0 1,0 9.8,0a4.9,4.9 0 1,0 -9.8,0M644.47,737.95a4.9,4.9 0 1,0 9.8,0a4.9,4.9 0 1,0 -9.8,0M646.11,736.76a4.9,4.9 0 1,0 9.8,0a4.9,4.9 0 1,0 -9.8,0M647.75,735.61a4.9,4.9 0 1,0 9.8,0a4.9,4.9 0 1,0 -9.8,0M649.40,734.48a4.9,4.9 0 1,0 9.8,0a4.9,4.9 0 1,0 -9.8,0M651.04,733.36a4.9,4.9 0 1,0 9.8,0a4.9,4.9 0 1,0 -9.8,0M652.69,732.24a4.9,4.9 0 1,0 9.8,0a4.9,4.9 0 1,0 -9.8,0M654.33,731.15a4.9,4.9 0 1,0 9.8,0a4.9,4.9 0 1,0 -9.8,0M655.97,730.07a4.9,4.9 0 1,0 9.8,0a4.9,4.9 0 1,0 -9.8,0M657.62,729.03a4.9,4.9 0 1,0 9.8,0a4.9,4.9 0 1,0 -9.8,0M659.26,728.03a4.9,4.9 0 1,0 9.8,0a4.9,4.9 0 1,0 -9.8,0M660.90,727.06a4.9,4.9 0 1,0 9.8,0a4.9,4.9 0 1,0 -9.8,0M662.55,726.12a4.9,4.9 0 1,0 9.8,0a4.9,4.9 0 1,0 -9.8,0M664.19,725.21a4.9,4.9 0 1,0 9.8,0a4.9,4.9 0 1,0 -9.8,0M665.84,724.32a4.9,4.9 0 1,0 9.8,0a4.9,4.9 0 1,0 -9.8,0M667.48,723.45a4.9,4.9 0 1,0 9.8,0a4.9,4.9 0 1,0 -9.8,0M669.12,722.59a4.9,4.9 0 1,0 9.8,0a4.9,4.9 0 1,0 -9.8,0M670.77,721.73a4.9,4.9 0 1,0 9.8,0a4.9,4.9 0 1,0 -9.8,0M672.41,720.89a4.9,4.9 0 1,0 9.8,0a4.9,4.9 0 1,0 -9.8,0M674.05,720.04a4.9,4.9 0 1,0 9.8,0a4.9,4.9 0 1,0 -9.8,0M675.70,719.18a4.9,4.9 0 1,0 9.8,0a4.9,4.9 0 1,0 -9.8,0M677.34,718.33a4.9,4.9 0 1,0 9.8,0a4.9,4.9 0 1,0 -9.8,0M678.99,717.47a4.9,4.9 0 1,0 9.8,0a4.9,4.9 0 1,0 -9.8,0M680.63,716.62a4.9,4.9 0 1,0 9.8,0a4.9,4.9 0 1,0 -9.8,0M682.27,715.77a4.9,4.9 0 1,0 9.8,0a4.9,4.9 0 1,0 -9.8,0M683.92,714.94a4.9,4.9 0 1,0 9.8,0a4.9,4.9 0 1,0 -9.8,0M685.56,714.12a4.9,4.9 0 1,0 9.8,0a4.9,4.9 0 1,0 -9.8,0M687.20,713.34a4.9,4.9 0 1,0 9.8,0a4.9,4.9 0 1,0 -9.8,0M688.85,712.58a4.9,4.9 0 1,0 9.8,0a4.9,4.9 0 1,0 -9.8,0M690.49,711.86a4.9,4.9 0 1,0 9.8,0a4.9,4.9 0 1,0 -9.8,0M692.14,711.17a4.9,4.9 0 1,0 9.8,0a4.9,4.9 0 1,0 -9.8,0M693.78,710.52a4.9,4.9 0 1,0 9.8,0a4.9,4.9 0 1,0 -9.8,0M695.42,709.88a4.9,4.9 0 1,0 9.8,0a4.9,4.9 0 1,0 -9.8,0M697.07,709.27a4.9,4.9 0 1,0 9.8,0a4.9,4.9 0 1,0 -9.8,0M698.71,708.68a4.9,4.9 0 1,0 9.8,0a4.9,4.9 0 1,0 -9.8,0M700.36,708.11a4.9,4.9 0 1,0 9.8,0a4.9,4.9 0 1,0 -9.8,0M702.00,707.55a4.9,4.9 0 1,0 9.8,0a4.9,4.9 0 1,0 -9.8,0M703.64,706.99a4.9,4.9 0 1,0 9.8,0a4.9,4.9 0 1,0 -9.8,0M705.29,706.45a4.9,4.9 0 1,0 9.8,0a4.9,4.9 0 1,0 -9.8,0M706.93,705.91a4.9,4.9 0 1,0 9.8,0a4.9,4.9 0 1,0 -9.8,0M708.57,705.39a4.9,4.9 0 1,0 9.8,0a4.9,4.9 0 1,0 -9.8,0M710.22,704.87a4.9,4.9 0 1,0 9.8,0a4.9,4.9 0 1,0 -9.8,0M711.86,704.37a4.9,4.9 0 1,0 9.8,0a4.9,4.9 0 1,0 -9.8,0M713.51,703.88a4.9,4.9 0 1,0 9.8,0a4.9,4.9 0 1,0 -9.8,0M715.15,703.40a4.9,4.9 0 1,0 9.8,0a4.9,4.9 0 1,0 -9.8,0M716.79,702.93a4.9,4.9 0 1,0 9.8,0a4.9,4.9 0 1,0 -9.8,0M718.44,702.47a4.9,4.9 0 1,0 9.8,0a4.9,4.9 0 1,0 -9.8,0M720.08,702.01a4.9,4.9 0 1,0 9.8,0a4.9,4.9 0 1,0 -9.8,0M721.72,701.56a4.9,4.9 0 1,0 9.8,0a4.9,4.9 0 1,0 -9.8,0M723.37,701.12a4.9,4.9 0 1,0 9.8,0a4.9,4.9 0 1,0 -9.8,0M725.01,700.68a4.9,4.9 0 1,0 9.8,0a4.9,4.9 0 1,0 -9.8,0M726.66,700.26a4.9,4.9 0 1,0 9.8,0a4.9,4.9 0 1,0 -9.8,0M728.30,699.85a4.9,4.9 0 1,0 9.8,0a4.9,4.9 0 1,0 -9.8,0M729.94,699.45a4.9,4.9 0 1,0 9.8,0a4.9,4.9 0 1,0 -9.8,0M731.59,699.07a4.9,4.9 0 1,0 9.8,0a4.9,4.9 0 1,0 -9.8,0M733.23,698.71a4.9,4.9 0 1,0 9.8,0a4.9,4.9 0 1,0 -9.8,0M734.88,698.38a4.9,4.9 0 1,0 9.8,0a4.9,4.9 0 1,0 -9.8,0M736.52,698.08a4.9,4.9 0 1,0 9.8,0a4.9,4.9 0 1,0 -9.8,0M738.16,697.81a4.9,4.9 0 1,0 9.8,0a4.9,4.9 0 1,0 -9.8,0M739.81,697.55a4.9,4.9 0 1,0 9.8,0a4.9,4.9 0 1,0 -9.8,0M741.45,697.32a4.9,4.9 0 1,0 9.8,0a4.9,4.9 0 1,0 -9.8,0M743.09,697.08a4.9,4.9 0 1,0 9.8,0a4.9,4.9 0 1,0 -9.8,0M744.74,696.83a4.9,4.9 0 1,0 9.8,0a4.9,4.9 0 1,0 -9.8,0M746.38,696.57a4.9,4.9 0 1,0 9.8,0a4.9,4.9 0 1,0 -9.8,0M748.03,696.28a4.9,4.9 0 1,0 9.8,0a4.9,4.9 0 1,0 -9.8,0M749.67,695.93a4.9,4.9 0 1,0 9.8,0a4.9,4.9 0 1,0 -9.8,0M751.31,695.52a4.9,4.9 0 1,0 9.8,0a4.9,4.9 0 1,0 -9.8,0M752.96,695.00a4.9,4.9 0 1,0 9.8,0a4.9,4.9 0 1,0 -9.8,0M754.60,694.35a4.9,4.9 0 1,0 9.8,0a4.9,4.9 0 1,0 -9.8,0M756.24,693.58a4.9,4.9 0 1,0 9.8,0a4.9,4.9 0 1,0 -9.8,0M757.89,692.71a4.9,4.9 0 1,0 9.8,0a4.9,4.9 0 1,0 -9.8,0M759.53,691.82a4.9,4.9 0 1,0 9.8,0a4.9,4.9 0 1,0 -9.8,0M761.18,690.93a4.9,4.9 0 1,0 9.8,0a4.9,4.9 0 1,0 -9.8,0M762.82,690.07a4.9,4.9 0 1,0 9.8,0a4.9,4.9 0 1,0 -9.8,0M764.46,689.23a4.9,4.9 0 1,0 9.8,0a4.9,4.9 0 1,0 -9.8,0M766.11,688.40a4.9,4.9 0 1,0 9.8,0a4.9,4.9 0 1,0 -9.8,0M767.75,687.58a4.9,4.9 0 1,0 9.8,0a4.9,4.9 0 1,0 -9.8,0M769.39,686.77a4.9,4.9 0 1,0 9.8,0a4.9,4.9 0 1,0 -9.8,0M771.04,685.98a4.9,4.9 0 1,0 9.8,0a4.9,4.9 0 1,0 -9.8,0M772.68,685.20a4.9,4.9 0 1,0 9.8,0a4.9,4.9 0 1,0 -9.8,0M774.33,684.43a4.9,4.9 0 1,0 9.8,0a4.9,4.9 0 1,0 -9.8,0M775.97,683.66a4.9,4.9 0 1,0 9.8,0a4.9,4.9 0 1,0 -9.8,0M777.61,682.89a4.9,4.9 0 1,0 9.8,0a4.9,4.9 0 1,0 -9.8,0M779.26,682.13a4.9,4.9 0 1,0 9.8,0a4.9,4.9 0 1,0 -9.8,0M780.90,681.36a4.9,4.9 0 1,0 9.8,0a4.9,4.9 0 1,0 -9.8,0M782.55,680.59a4.9,4.9 0 1,0 9.8,0a4.9,4.9 0 1,0 -9.8,0M784.19,679.83a4.9,4.9 0 1,0 9.8,0a4.9,4.9 0 1,0 -9.8,0M785.83,679.06a4.9,4.9 0 1,0 9.8,0a4.9,4.9 0 1,0 -9.8,0" fill="#ff7f0e"/>
</g>
<line x1="739" y1="1145.5" x2="739" y2="592.5" stroke="#1f77b4" stroke-opacity="0.6" stroke-width="2.08" stroke-dasharray="7.6 3.45" stroke-dashoffset="-0.9"/>
<rect x="77.5" y="592.5" width="708.0" height="553.00" fill="none" stroke="#000" stroke-width="1.11"/>
<line x1="72.64" y1="1145.50" x2="77.5" y2="1145.50" stroke="#000" stroke-width="1.11"/>
<text x="60.50" y="1150.90" font-size="14.10" textLength="8.00" lengthAdjust="spacingAndGlyphs">0</text>
<line x1="72.64" y1="1026.50" x2="77.5" y2="1026.50" stroke="#000" stroke-width="1.11"/>
<text x="33.20" y="1031.90" font-size="14.10" textLength="34.60" lengthAdjust="spacingAndGlyphs">2000</text>
<line x1="72.64" y1="906.50" x2="77.5" y2="906.50" stroke="#000" stroke-width="1.11"/>
<text x="33.20" y="911.90" font-size="14.10" textLength="34.60" lengthAdjust="spacingAndGlyphs">4000</text>
<line x1="72.64" y1="787.50" x2="77.5" y2="787.50" stroke="#000" stroke-width="1.11"/>
<text x="33.20" y="792.90" font-size="14.10" textLength="34.60" lengthAdjust="spacingAndGlyphs">6000</text>
<line x1="72.64" y1="667.50" x2="77.5" y2="667.50" stroke="#000" stroke-width="1.11"/>
<text x="33.20" y="672.90" font-size="14.10" textLength="34.60" lengthAdjust="spacingAndGlyphs">8000</text>
<line x1="77.5" y1="1145.5" x2="77.5" y2="1150.36" stroke="#000" stroke-width="1.11"/>
<line x1="123.5" y1="1145.5" x2="123.5" y2="1150.36" stroke="#000" stroke-width="1.11"/>
<line x1="273.5" y1="1145.5" x2="273.5" y2="1150.36" stroke="#000" stroke-width="1.11"/>
<line x1="424.5" y1="1145.5" x2="424.5" y2="1150.36" stroke="#000" stroke-width="1.11"/>
<line x1="575.5" y1="1145.5" x2="575.5" y2="1150.36" stroke="#000" stroke-width="1.11"/>
<line x1="723.5" y1="1145.5" x2="723.5" y2="1150.36" stroke="#000" stroke-width="1.11"/>
<line x1="785.5" y1="1145.5" x2="785.5" y2="1150.36" stroke="#000" stroke-width="1.11"/>
<line x1="173.5" y1="1145.5" x2="173.5" y2="1148.28" stroke="#000" stroke-width="0.83"/>
<line x1="223.5" y1="1145.5" x2="223.5" y2="1148.28" stroke="#000" stroke-width="0.83"/>
<line x1="324.5" y1="1145.5" x2="324.5" y2="1148.28" stroke="#000" stroke-width="0.83"/>
<line x1="375.5" y1="1145.5" x2="375.5" y2="1148.28" stroke="#000" stroke-width="0.83"/>
<line x1="475.5" y1="1145.5" x2="475.5" y2="1148.28" stroke="#000" stroke-width="0.83"/>
<line x1="524.5" y1="1145.5" x2="524.5" y2="1148.28" stroke="#000" stroke-width="0.83"/>
<line x1="626.5" y1="1145.5" x2="626.5" y2="1148.28" stroke="#000" stroke-width="0.83"/>
<line x1="672.5" y1="1145.5" x2="672.5" y2="1148.28" stroke="#000" stroke-width="0.83"/>
<line x1="772.5" y1="1145.5" x2="772.5" y2="1148.28" stroke="#000" stroke-width="0.83"/>
<rect x="84.5" y="599.40" width="98.0" height="24.7" rx="2.8" ry="2.8" fill="#fff" fill-opacity="0.8" stroke="#cccccc" stroke-width="1.11"/>
<line x1="89" y1="610.00" x2="119" y2="610.00" stroke="#1f77b4" stroke-width="2.08"/>
<text x="129.20" y="614.80" font-size="14.10" textLength="46.00" lengthAdjust="spacingAndGlyphs">deaths</text>
<text x="111.00" y="1165.70" font-size="14.10" textLength="23.00" lengthAdjust="spacingAndGlyphs">Apr</text>
<text x="264.00" y="1165.90" font-size="14.10" textLength="16.00" lengthAdjust="spacingAndGlyphs">Jul</text>
<text x="413.00" y="1165.90" font-size="14.10" textLength="23.00" lengthAdjust="spacingAndGlyphs">Oct</text>
<text x="563.00" y="1165.70" font-size="14.10" textLength="21.00" lengthAdjust="spacingAndGlyphs">Jan</text>
<text x="710.80" y="1165.70" font-size="14.10" textLength="23.00" lengthAdjust="spacingAndGlyphs">Apr</text>
<text x="557.50" y="1181.90" font-size="14.10" textLength="34.00" lengthAdjust="spacingAndGlyphs">2021</text>
</g></svg></body></html>
